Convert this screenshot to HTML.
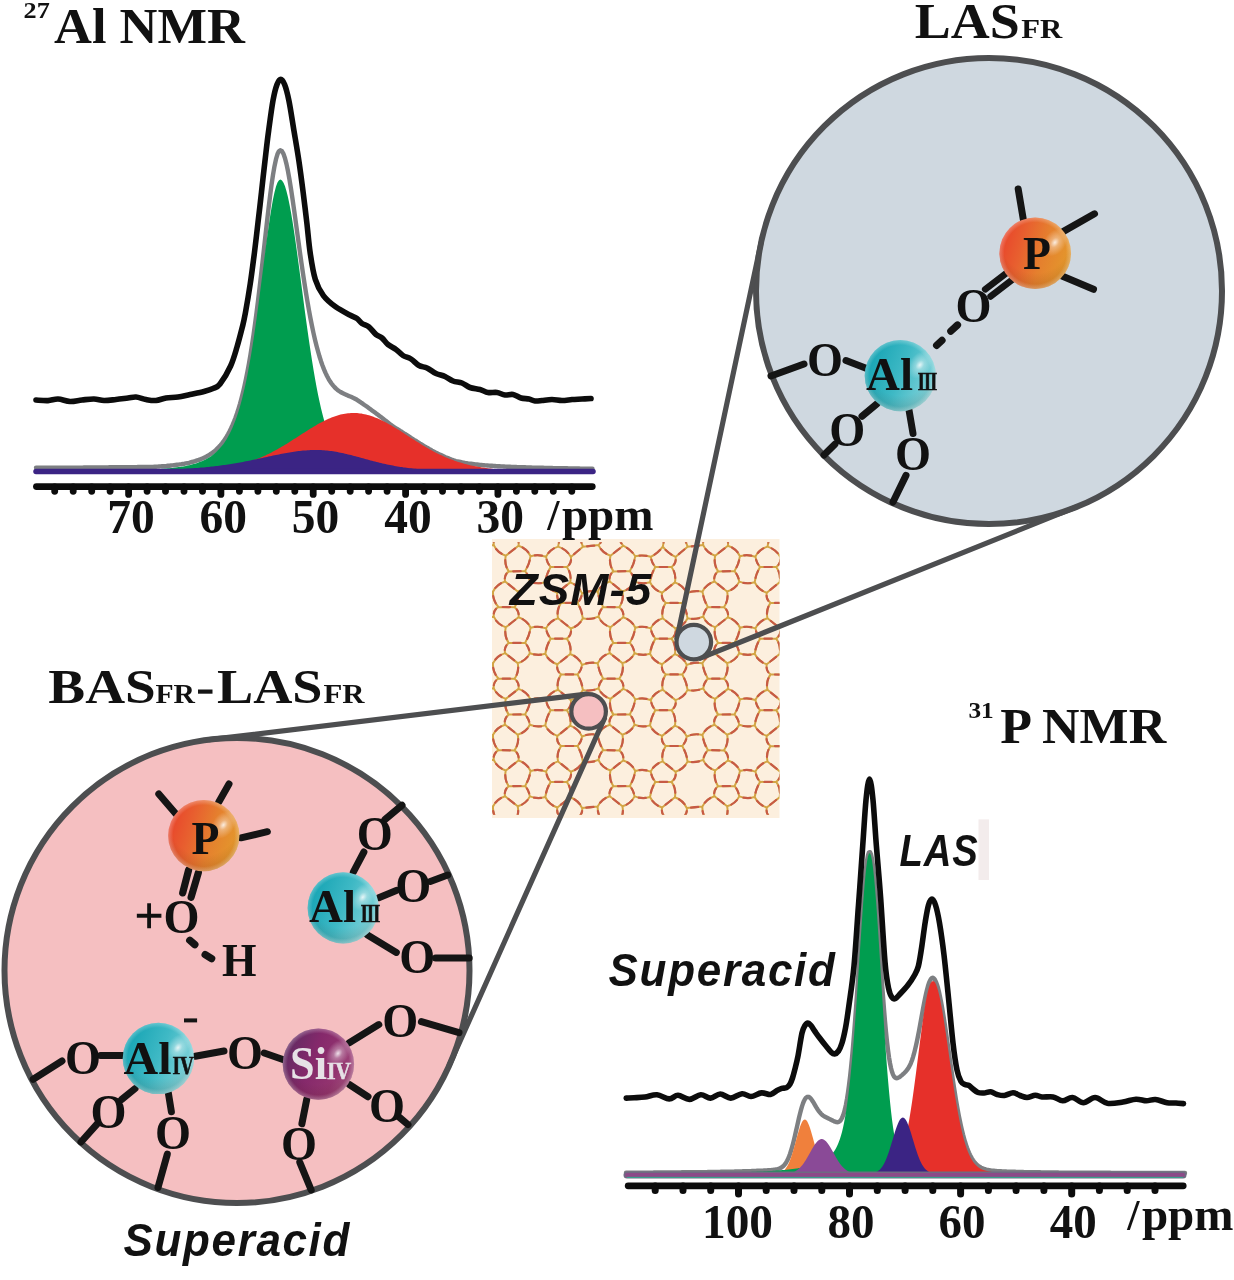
<!DOCTYPE html>
<html lang="en"><head><meta charset="utf-8"><title>ZSM-5 acid sites NMR</title>
<style>html,body{margin:0;padding:0;background:#fff}body{width:1234px;height:1280px;overflow:hidden}svg{display:block}</style>
</head><body>
<svg width="1234" height="1280" viewBox="0 0 1234 1280">
<defs>
<linearGradient id="gP" x1="0" y1="0.35" x2="1" y2="0.65"><stop offset="0" stop-color="#e8442b"/><stop offset="0.3" stop-color="#e8602f"/><stop offset="0.6" stop-color="#e5802e"/><stop offset="1" stop-color="#e39a2c"/></linearGradient>
<linearGradient id="gAl" x1="0" y1="0.3" x2="1" y2="0.7"><stop offset="0" stop-color="#14a3b3"/><stop offset="0.5" stop-color="#3fb9c5"/><stop offset="1" stop-color="#8ad6dc"/></linearGradient>
<linearGradient id="gSi" x1="0" y1="0.3" x2="1" y2="0.7"><stop offset="0" stop-color="#5f2a62"/><stop offset="0.4" stop-color="#85296b"/><stop offset="0.75" stop-color="#93346f"/><stop offset="1" stop-color="#a85585"/></linearGradient>
<radialGradient id="hl" cx="0.5" cy="0.5" r="0.5"><stop offset="0" stop-color="#fff" stop-opacity="0.85"/><stop offset="0.35" stop-color="#fff" stop-opacity="0.35"/><stop offset="1" stop-color="#fff" stop-opacity="0"/></radialGradient>
<radialGradient id="rim" cx="0.5" cy="0.5" r="0.5"><stop offset="0.86" stop-color="#fff" stop-opacity="0"/><stop offset="1" stop-color="#fff" stop-opacity="0.28"/></radialGradient>
<radialGradient id="shade" cx="0.5" cy="0.3" r="0.8"><stop offset="0.6" stop-color="#3a1500" stop-opacity="0"/><stop offset="1" stop-color="#3a1500" stop-opacity="0.22"/></radialGradient>
<clipPath id="zc"><rect x="492" y="542.2" width="287.5" height="272.6"/></clipPath>
</defs>
<rect width="1234" height="1280" fill="#fff"/>
<rect x="492" y="539" width="287.5" height="279" fill="#fcefde"/>
<g clip-path="url(#zc)" fill="none" stroke-linecap="round">
<path d="M550.6 567.1Q558.7 567 566.8 567M550.6 638.7Q558.7 638.6 566.8 638.6M550.6 710.3Q558.7 710.2 566.8 710.2M550.6 781.9Q558.7 781.8 566.8 781.8M655.3 567.1Q663.4 567 671.5 567M655.3 638.7Q663.4 638.6 671.5 638.6M655.3 710.3Q663.4 710.2 671.5 710.2M655.3 781.9Q663.4 781.8 671.5 781.8M760 567.1Q768.1 567 776.2 567M760 638.7Q768.1 638.6 776.2 638.6M760 710.3Q768.1 710.2 776.2 710.2M760 781.9Q768.1 781.8 776.2 781.8M508.7 571.4Q503.7 575.3 505.1 581.5M508.7 643Q503.7 646.9 505.1 653.1M508.7 714.6Q503.7 718.5 505.1 724.7M508.7 786.2Q503.7 790.1 505.1 796.3M613.4 571.4Q608.4 575.3 609.8 581.5M613.4 643Q608.4 646.9 609.8 653.1M613.4 714.6Q608.4 718.5 609.8 724.7M613.4 786.2Q608.4 790.1 609.8 796.3M718.1 571.4Q713.1 575.3 714.5 581.5M718.1 643Q713.1 646.9 714.5 653.1M718.1 714.6Q713.1 718.5 714.5 724.7M718.1 786.2Q713.1 790.1 714.5 796.3M505.1 581.5Q496.9 584 493 591.7M505.1 653.1Q496.9 655.6 493 663.3M505.1 724.7Q496.9 727.2 493 734.9M505.1 796.3Q496.9 798.8 493 806.5M609.8 581.5Q601.6 584 597.7 591.7M609.8 653.1Q601.6 655.6 597.7 663.3M609.8 724.7Q601.6 727.2 597.7 734.9M609.8 796.3Q601.6 798.8 597.7 806.5M714.5 581.5Q706.3 584 702.4 591.7M714.5 653.1Q706.3 655.6 702.4 663.3M714.5 724.7Q706.3 727.2 702.4 734.9M714.5 796.3Q706.3 798.8 702.4 806.5M518.5 545.7Q519.6 539.4 514.5 535.6M518.5 617.3Q519.6 611 514.5 607.2M518.5 688.9Q519.6 682.6 514.5 678.8M518.5 760.5Q519.6 754.2 514.5 750.4M518.5 832.1Q516.5 827.1 514.5 822M623.2 545.7Q619.3 541.4 619.2 535.6M623.2 617.3Q624.3 611 619.2 607.2M623.2 688.9Q624.3 682.6 619.2 678.8M623.2 760.5Q624.3 754.2 619.2 750.4M623.2 832.1Q621.2 827.1 619.2 822M727.9 545.7Q729 539.4 723.9 535.6M727.9 617.3Q729 611 723.9 607.2M727.9 688.9Q729 682.6 723.9 678.8M727.9 760.5Q729 754.2 723.9 750.4M727.9 832.1Q725.9 827.1 723.9 822M529.9 581.6Q537.5 584.5 545.3 582.2M529.9 653.2Q537.5 656.1 545.3 653.8M529.9 724.8Q537.5 727.7 545.3 725.4M529.9 796.4Q537.5 799.3 545.3 797M634.6 581.6Q642.2 584.5 650 582.2M634.6 653.2Q642.2 656.1 650 653.8M634.6 724.8Q642.2 727.7 650 725.4M634.6 796.4Q642.2 799.3 650 797M739.3 581.6Q746.9 584.5 754.7 582.2M739.3 653.2Q746.9 656.1 754.7 653.8M739.3 724.8Q746.9 727.7 754.7 725.4M739.3 796.4Q746.9 799.3 754.7 797M508.7 571.4Q517 571.3 525.2 571.1M508.7 643Q517 642.9 525.2 642.7M508.7 714.6Q517 714.5 525.2 714.3M508.7 786.2Q517 786.1 525.2 785.9M613.4 571.4Q621.7 571.3 629.9 571.1M613.4 643Q621.7 642.9 629.9 642.7M613.4 714.6Q621.7 714.5 629.9 714.3M613.4 786.2Q621.7 786.1 629.9 785.9M718.1 571.4Q726.4 571.3 734.6 571.1M718.1 643Q726.4 642.9 734.6 642.7M718.1 714.6Q726.4 714.5 734.6 714.3M718.1 786.2Q726.4 786.1 734.6 785.9M550.6 567.1Q546.9 562.6 546 556.8M550.6 638.7Q546.9 634.2 546 628.4M550.6 710.3Q546.9 705.8 546 700M550.6 781.9Q546.9 777.4 546 771.6M655.3 567.1Q651.6 562.6 650.7 556.8M655.3 638.7Q651.6 634.2 650.7 628.4M655.3 710.3Q651.6 705.8 650.7 700M655.3 781.9Q651.6 777.4 650.7 771.6M760 567.1Q756.3 562.6 755.4 556.8M760 638.7Q756.3 634.2 755.4 628.4M760 710.3Q756.3 705.8 755.4 700M760 781.9Q756.3 777.4 755.4 771.6M545.3 582.2Q549.1 590 557.4 592.7M545.3 653.8Q549.1 661.6 557.4 664.3M545.3 725.4Q549.1 733.2 557.4 735.9M545.3 797Q549.1 804.8 557.4 807.5M650 582.2Q653.8 590 662.1 592.7M650 653.8Q653.8 661.6 662.1 664.3M650 725.4Q653.8 733.2 662.1 735.9M650 797Q653.8 804.8 662.1 807.5M754.7 582.2Q758.5 590 766.8 592.7M754.7 653.8Q758.5 661.6 766.8 664.3M754.7 725.4Q758.5 733.2 766.8 735.9M754.7 797Q758.5 804.8 766.8 807.5M505.1 581.5Q511.4 586.5 517.7 591.5M505.1 653.1Q511.4 658.1 517.7 663.1M505.1 724.7Q511.4 729.7 517.7 734.7M505.1 796.3Q511.4 801.3 517.7 806.3M609.8 581.5Q616.1 586.5 622.4 591.5M609.8 653.1Q616.1 658.1 622.4 663.1M609.8 724.7Q616.1 729.7 622.4 734.7M609.8 796.3Q616.1 801.3 622.4 806.3M714.5 581.5Q720.8 586.5 727.1 591.5M714.5 653.1Q720.8 658.1 727.1 663.1M714.5 724.7Q720.8 729.7 727.1 734.7M714.5 796.3Q720.8 801.3 727.1 806.3M566.8 567Q571.8 574 570.2 582.4M566.8 638.6Q571.8 645.6 570.2 654M566.8 710.2Q571.8 717.2 570.2 725.6M566.8 781.8Q571.8 788.8 570.2 797.2M671.5 567Q676.5 574 674.9 582.4M671.5 638.6Q676.5 645.6 674.9 654M671.5 710.2Q676.5 717.2 674.9 725.6M671.5 781.8Q676.5 788.8 674.9 797.2M776.2 567Q781.2 574 779.6 582.4M776.2 638.6Q781.2 645.6 779.6 654M776.2 710.2Q781.2 717.2 779.6 725.6M776.2 781.8Q781.2 788.8 779.6 797.2M570.8 556.9Q576.8 551.8 582.9 546.7M570.8 628.5Q579 626 582.9 618.3M570.8 700.1Q579 697.6 582.9 689.9M570.8 771.7Q579 769.2 582.9 761.5M675.5 556.9Q681.5 551.8 687.6 546.7M675.5 628.5Q683.7 626 687.6 618.3M675.5 700.1Q683.7 697.6 687.6 689.9M675.5 771.7Q683.7 769.2 687.6 761.5M780.2 556.9Q786.2 551.8 792.3 546.7M780.2 628.5Q788.4 626 792.3 618.3M780.2 700.1Q788.4 697.6 792.3 689.9M780.2 771.7Q788.4 769.2 792.3 761.5M550.6 567.1Q546.4 574.1 545.3 582.2M550.6 638.7Q546.4 645.7 545.3 653.8M550.6 710.3Q546.4 717.3 545.3 725.4M550.6 781.9Q546.4 788.9 545.3 797M655.3 567.1Q651.1 574.1 650 582.2M655.3 638.7Q651.1 645.7 650 653.8M655.3 710.3Q651.1 717.3 650 725.4M655.3 781.9Q651.1 788.9 650 797M760 567.1Q755.8 574.1 754.7 582.2M760 638.7Q755.8 645.7 754.7 653.8M760 710.3Q755.8 717.3 754.7 725.4M760 781.9Q755.8 788.9 754.7 797M546 556.8Q549.8 549.1 558.1 546.6M546 628.4Q549.8 620.7 558.1 618.2M546 700Q549.8 692.3 558.1 689.8M546 771.6Q549.8 763.9 558.1 761.4M650.7 556.8Q658 553.3 662.8 546.6M650.7 628.4Q654.5 620.7 662.8 618.2M650.7 700Q654.5 692.3 662.8 689.8M650.7 771.6Q654.5 763.9 662.8 761.4M755.4 556.8Q759.2 549.1 767.5 546.6M755.4 628.4Q759.2 620.7 767.5 618.2M755.4 700Q759.2 692.3 767.5 689.8M755.4 771.6Q759.2 763.9 767.5 761.4M546 556.8Q538.4 553.9 530.6 556.2M546 628.4Q538.4 625.5 530.6 627.8M546 700Q538.4 697.1 530.6 699.4M546 771.6Q538.4 768.7 530.6 771M650.7 556.8Q643.1 554.5 635.3 556.2M650.7 628.4Q643.1 625.5 635.3 627.8M650.7 700Q643.1 697.1 635.3 699.4M650.7 771.6Q643.1 768.7 635.3 771M755.4 556.8Q747.8 553.9 740 556.2M755.4 628.4Q747.8 625.5 740 627.8M755.4 700Q747.8 697.1 740 699.4M755.4 771.6Q747.8 768.7 740 771M493.8 545.1Q493 538.8 498.4 535.3M493.8 616.7Q493 610.4 498.4 606.9M493.8 688.3Q493 682 498.4 678.5M493.8 759.9Q493 753.6 498.4 750.1M493.8 831.5Q496.1 826.6 498.4 821.7M598.5 545.1Q602.6 541.1 603.1 535.3M598.5 616.7Q599.3 611.2 603.1 606.9M598.5 688.3Q599.3 682.8 603.1 678.5M598.5 759.9Q599.3 754.4 603.1 750.1M598.5 831.5Q600.8 826.6 603.1 821.7M703.2 545.1Q702.4 538.8 707.8 535.3M703.2 616.7Q704 611.2 707.8 606.9M703.2 688.3Q704 682.8 707.8 678.5M703.2 759.9Q704 754.4 707.8 750.1M703.2 831.5Q705.5 826.6 707.8 821.7M561.1 602.8Q556.1 598.9 557.4 592.7M561.1 674.4Q556.1 670.5 557.4 664.3M561.1 746Q556.1 742.1 557.4 735.9M561.1 817.6Q556.1 813.7 557.4 807.5M665.8 602.8Q660.8 598.9 662.1 592.7M665.8 674.4Q660.8 670.5 662.1 664.3M665.8 746Q660.8 742.1 662.1 735.9M665.8 817.6Q660.8 813.7 662.1 807.5M770.5 602.8Q765.5 598.9 766.8 592.7M770.5 674.4Q765.5 670.5 766.8 664.3M770.5 746Q765.5 742.1 766.8 735.9M770.5 817.6Q765.5 813.7 766.8 807.5M577.6 602.9Q581.3 598.7 582.1 593.3M577.6 674.5Q581.3 670.3 582.1 664.9M577.6 746.1Q581.3 741.9 582.1 736.5M577.6 817.7Q583 814.3 582.1 808.1M682.3 602.9Q686 598.7 686.8 593.3M682.3 674.5Q686 670.3 686.8 664.9M682.3 746.1Q686 741.9 686.8 736.5M682.3 817.7Q687.7 814.3 686.8 808.1M557.4 592.7Q563.8 587.6 570.2 582.4M557.4 664.3Q563.8 659.2 570.2 654M557.4 735.9Q563.8 730.8 570.2 725.6M557.4 807.5Q563.8 802.4 570.2 797.2M662.1 592.7Q668.5 587.6 674.9 582.4M662.1 664.3Q668.5 659.2 674.9 654M662.1 735.9Q668.5 730.8 674.9 725.6M662.1 807.5Q668.5 802.4 674.9 797.2M766.8 592.7Q773.2 587.6 779.6 582.4M766.8 664.3Q773.2 659.2 779.6 654M766.8 735.9Q773.2 730.8 779.6 725.6M766.8 807.5Q773.2 802.4 779.6 797.2M582.9 546.7Q580.2 539.1 577.5 531.5M582.9 618.3Q581.8 610.1 577.6 602.9M582.9 689.9Q581.8 681.7 577.6 674.5M582.9 761.5Q581.8 753.3 577.6 746.1M582.9 833.1Q580.2 825.4 577.6 817.7M687.6 546.7Q684.9 539.1 682.2 531.5M687.6 618.3Q686.5 610.1 682.3 602.9M687.6 689.9Q686.5 681.7 682.3 674.5M687.6 761.5Q686.5 753.3 682.3 746.1M687.6 833.1Q684.9 825.4 682.3 817.7M792.3 546.7Q789.6 539.1 786.9 531.5M792.3 618.3Q792.8 609.6 786.9 603.1M792.3 689.9Q792.8 681.2 786.9 674.7M792.3 761.5Q792.8 752.8 786.9 746.3M792.3 833.1Q789.6 825.5 786.9 817.9M570.2 582.4Q578.4 585.3 582.1 593.3M570.2 654Q578.4 656.9 582.1 664.9M570.2 725.6Q578.4 728.5 582.1 736.5M570.2 797.2Q578.4 800.1 582.1 808.1M674.9 582.4Q683.1 585.3 686.8 593.3M674.9 654Q683.1 656.9 686.8 664.9M674.9 725.6Q683.1 728.5 686.8 736.5M674.9 797.2Q683.1 800.1 686.8 808.1M779.6 582.4Q787.8 585.3 791.5 593.3M779.6 654Q787.8 656.9 791.5 664.9M779.6 725.6Q787.8 728.5 791.5 736.5M779.6 797.2Q787.8 800.1 791.5 808.1M525.2 571.1Q529 575.7 529.9 581.6M525.2 642.7Q529 647.3 529.9 653.2M525.2 714.3Q529 718.9 529.9 724.8M525.2 785.9Q529 790.5 529.9 796.4M629.9 571.1Q633.7 575.7 634.6 581.6M629.9 642.7Q633.7 647.3 634.6 653.2M629.9 714.3Q633.7 718.9 634.6 724.8M629.9 785.9Q633.7 790.5 634.6 796.4M734.6 571.1Q738.4 575.7 739.3 581.6M734.6 642.7Q738.4 647.3 739.3 653.2M734.6 714.3Q738.4 718.9 739.3 724.8M734.6 785.9Q738.4 790.5 739.3 796.4M493.8 545.1Q497.5 553 505.8 555.7M493.8 616.7Q497.5 624.6 505.8 627.3M493.8 688.3Q497.5 696.2 505.8 698.9M493.8 759.9Q497.5 767.8 505.8 770.5M598.5 545.1Q602.2 553 610.5 555.7M598.5 616.7Q602.2 624.6 610.5 627.3M598.5 688.3Q602.2 696.2 610.5 698.9M598.5 759.9Q602.2 767.8 610.5 770.5M703.2 545.1Q706.9 553 715.2 555.7M703.2 616.7Q706.9 624.6 715.2 627.3M703.2 688.3Q706.9 696.2 715.2 698.9M703.2 759.9Q706.9 767.8 715.2 770.5M505.8 555.7Q512.1 550.7 518.5 545.7M505.8 627.3Q512.1 622.3 518.5 617.3M505.8 698.9Q512.1 693.9 518.5 688.9M505.8 770.5Q512.1 765.5 518.5 760.5M610.5 555.7Q616.8 550.7 623.2 545.7M610.5 627.3Q616.8 622.3 623.2 617.3M610.5 698.9Q616.8 693.9 623.2 688.9M610.5 770.5Q616.8 765.5 623.2 760.5M715.2 555.7Q721.5 550.7 727.9 545.7M715.2 627.3Q721.5 622.3 727.9 617.3M715.2 698.9Q721.5 693.9 727.9 688.9M715.2 770.5Q721.5 765.5 727.9 760.5M570.8 556.9Q572 563.2 566.8 567M570.8 628.5Q572 634.8 566.8 638.6M570.8 700.1Q572 706.4 566.8 710.2M570.8 771.7Q572 778 566.8 781.8M675.5 556.9Q676.7 563.2 671.5 567M675.5 628.5Q676.7 634.8 671.5 638.6M675.5 700.1Q676.7 706.4 671.5 710.2M675.5 771.7Q676.7 778 671.5 781.8M780.2 556.9Q781.4 563.2 776.2 567M780.2 628.5Q781.4 634.8 776.2 638.6M780.2 700.1Q781.4 706.4 776.2 710.2M780.2 771.7Q781.4 778 776.2 781.8M577.6 602.9Q569.4 602.8 561.1 602.8M577.6 674.5Q569.4 674.4 561.1 674.4M577.6 746.1Q569.4 746 561.1 746M577.6 817.7Q569.3 821 561.1 817.6M682.3 602.9Q674.1 602.8 665.8 602.8M682.3 674.5Q674.1 674.4 665.8 674.4M682.3 746.1Q674.1 746 665.8 746M682.3 817.7Q674 821 665.8 817.6M786.9 603.1Q778.7 602.9 770.5 602.8M786.9 674.7Q778.7 674.5 770.5 674.4M786.9 746.3Q778.7 746.1 770.5 746M786.9 817.9Q778.6 821.1 770.5 817.6M498.4 535.3Q506.5 532.1 514.5 535.6M498.4 606.9Q506.4 607.1 514.5 607.2M498.4 678.5Q506.4 678.7 514.5 678.8M498.4 750.1Q506.4 750.3 514.5 750.4M498.4 821.7Q506.4 825.3 514.5 822M603.1 535.3Q611.1 537.5 619.2 535.6M603.1 606.9Q611.1 607.1 619.2 607.2M603.1 678.5Q611.1 678.7 619.2 678.8M603.1 750.1Q611.1 750.3 619.2 750.4M603.1 821.7Q611.1 825.3 619.2 822M707.8 535.3Q715.9 532.1 723.9 535.6M707.8 606.9Q715.8 607.1 723.9 607.2M707.8 678.5Q715.8 678.7 723.9 678.8M707.8 750.1Q715.8 750.3 723.9 750.4M707.8 821.7Q715.8 825.3 723.9 822M517.7 591.5Q526 589.2 529.9 581.6M517.7 663.1Q526 660.8 529.9 653.2M517.7 734.7Q526 732.4 529.9 724.8M517.7 806.3Q526 804 529.9 796.4M622.4 591.5Q630.7 589.2 634.6 581.6M622.4 663.1Q630.7 660.8 634.6 653.2M622.4 734.7Q630.7 732.4 634.6 724.8M622.4 806.3Q630.7 804 634.6 796.4M727.1 591.5Q735.4 589.2 739.3 581.6M727.1 663.1Q735.4 660.8 739.3 653.2M727.1 734.7Q735.4 732.4 739.3 724.8M727.1 806.3Q735.4 804 739.3 796.4M518.5 545.7Q526.8 548.4 530.6 556.2M518.5 617.3Q526.8 620 530.6 627.8M518.5 688.9Q526.8 691.6 530.6 699.4M518.5 760.5Q526.8 763.2 530.6 771M623.2 545.7Q630.6 549.4 635.3 556.2M623.2 617.3Q631.5 620 635.3 627.8M623.2 688.9Q631.5 691.6 635.3 699.4M623.2 760.5Q631.5 763.2 635.3 771M727.9 545.7Q736.2 548.4 740 556.2M727.9 617.3Q736.2 620 740 627.8M727.9 688.9Q736.2 691.6 740 699.4M727.9 760.5Q736.2 763.2 740 771M525.2 571.1Q529.4 564.2 530.6 556.2M525.2 642.7Q529.4 635.8 530.6 627.8M525.2 714.3Q529.4 707.4 530.6 699.4M525.2 785.9Q529.4 779 530.6 771M629.9 571.1Q634.1 564.2 635.3 556.2M629.9 642.7Q634.1 635.8 635.3 627.8M629.9 714.3Q634.1 707.4 635.3 699.4M629.9 785.9Q634.1 779 635.3 771M734.6 571.1Q738.8 564.2 740 556.2M734.6 642.7Q738.8 635.8 740 627.8M734.6 714.3Q738.8 707.4 740 699.4M734.6 785.9Q738.8 779 740 771M786.9 603.1Q792.3 599.6 791.5 593.3M786.9 674.7Q792.3 671.2 791.5 664.9M786.9 746.3Q792.3 742.8 791.5 736.5M786.9 817.9Q792.3 814.4 791.5 808.1M478.2 546.7Q486 545.9 493.8 545.1M478.2 618.3Q486 617.5 493.8 616.7M478.2 689.9Q486 689.1 493.8 688.3M478.2 761.5Q486 760.7 493.8 759.9M582.9 546.7Q590.7 545.9 598.5 545.1M582.9 618.3Q590.9 620.1 598.5 616.7M582.9 689.9Q590.9 691.7 598.5 688.3M582.9 761.5Q590.9 763.3 598.5 759.9M687.6 546.7Q695.4 545.9 703.2 545.1M687.6 618.3Q695.6 620.1 703.2 616.7M687.6 689.9Q695.6 691.7 703.2 688.3M687.6 761.5Q695.6 763.3 703.2 759.9M561.1 531.2Q559.6 538.9 558.1 546.6M561.1 602.8Q556.2 609.9 558.1 618.2M561.1 674.4Q556.2 681.5 558.1 689.8M561.1 746Q556.2 753.1 558.1 761.4M561.1 817.6Q559.6 825.5 558.2 833.3M665.8 531.2Q664.3 538.9 662.8 546.6M665.8 602.8Q660.9 609.9 662.8 618.2M665.8 674.4Q660.9 681.5 662.8 689.8M665.8 746Q660.9 753.1 662.8 761.4M665.8 817.6Q664.3 825.5 662.9 833.3M770.5 531.2Q769 538.9 767.5 546.6M770.5 602.8Q765.6 609.9 767.5 618.2M770.5 674.4Q765.6 681.5 767.5 689.8M770.5 746Q765.6 753.1 767.5 761.4M770.5 817.6Q769 825.5 767.6 833.3M514.5 535.6Q516.1 527.7 517.7 519.9M514.5 607.2Q519.5 600 517.7 591.5M514.5 678.8Q519.5 671.6 517.7 663.1M514.5 750.4Q519.5 743.2 517.7 734.7M514.5 822Q519.5 814.8 517.7 806.3M619.2 535.6Q620.8 527.7 622.4 519.9M619.2 607.2Q624.2 600 622.4 591.5M619.2 678.8Q624.2 671.6 622.4 663.1M619.2 750.4Q624.2 743.2 622.4 734.7M619.2 822Q624.2 814.8 622.4 806.3M723.9 535.6Q725.5 527.7 727.1 519.9M723.9 607.2Q728.9 600 727.1 591.5M723.9 678.8Q728.9 671.6 727.1 663.1M723.9 750.4Q728.9 743.2 727.1 734.7M723.9 822Q728.9 814.8 727.1 806.3M477.5 592.6Q485.3 592.1 493 591.7M477.5 664.2Q485.3 663.7 493 663.3M477.5 735.8Q485.3 735.3 493 734.9M477.5 807.4Q485.3 806.9 493 806.5M582.1 593.3Q589.7 589.9 597.7 591.7M582.1 664.9Q589.7 661.5 597.7 663.3M582.1 736.5Q589.7 733.1 597.7 734.9M582.1 808.1Q589.9 807.3 597.7 806.5M686.8 593.3Q694.4 589.9 702.4 591.7M686.8 664.9Q694.4 661.5 702.4 663.3M686.8 736.5Q694.4 733.1 702.4 734.9M686.8 808.1Q694.6 807.3 702.4 806.5M570.8 556.9Q566.6 549.1 558.1 546.6M570.8 628.5Q564.4 623.4 558.1 618.2M570.8 700.1Q564.4 695 558.1 689.8M570.8 771.7Q564.4 766.6 558.1 761.4M675.5 556.9Q667.9 553.3 662.8 546.6M675.5 628.5Q669.1 623.4 662.8 618.2M675.5 700.1Q669.1 695 662.8 689.8M675.5 771.7Q669.1 766.6 662.8 761.4M780.2 556.9Q776 549.1 767.5 546.6M780.2 628.5Q773.8 623.4 767.5 618.2M780.2 700.1Q773.8 695 767.5 689.8M780.2 771.7Q773.8 766.6 767.5 761.4M492.9 520.4Q495.7 527.9 498.4 535.3M493 591.7Q492.5 600.4 498.4 606.9M493 663.3Q492.5 672 498.4 678.5M493 734.9Q492.5 743.6 498.4 750.1M493 806.5Q492.5 815.2 498.4 821.7M597.6 520.4Q600.4 527.9 603.1 535.3M597.7 591.7Q598.9 599.8 603.1 606.9M597.7 663.3Q598.9 671.4 603.1 678.5M597.7 734.9Q598.9 743 603.1 750.1M597.7 806.5Q597.2 815.2 603.1 821.7M702.3 520.4Q705.1 527.9 707.8 535.3M702.4 591.7Q703.6 599.8 707.8 606.9M702.4 663.3Q703.6 671.4 707.8 678.5M702.4 734.9Q703.6 743 707.8 750.1M702.4 806.5Q701.9 815.2 707.8 821.7M505.8 555.7Q503.9 564.2 508.7 571.4M505.8 627.3Q503.9 635.8 508.7 643M505.8 698.9Q503.9 707.4 508.7 714.6M505.8 770.5Q503.9 779 508.7 786.2M610.5 555.7Q608.6 564.2 613.4 571.4M610.5 627.3Q608.6 635.8 613.4 643M610.5 698.9Q608.6 707.4 613.4 714.6M610.5 770.5Q608.6 779 613.4 786.2M715.2 555.7Q713.3 564.2 718.1 571.4M715.2 627.3Q713.3 635.8 718.1 643M715.2 698.9Q713.3 707.4 718.1 714.6M715.2 770.5Q713.3 779 718.1 786.2" stroke="#d3a544" stroke-width="2.0"/>
<path d="M555 567Q558.7 567 562.5 567M555 638.6Q558.7 638.6 562.5 638.6M555 710.2Q558.7 710.2 562.5 710.2M555 781.8Q558.7 781.8 562.5 781.8M659.7 567Q663.4 567 667.2 567M659.7 638.6Q663.4 638.6 667.2 638.6M659.7 710.2Q663.4 710.2 667.2 710.2M659.7 781.8Q663.4 781.8 667.2 781.8M764.4 567Q768.1 567 771.9 567M764.4 638.6Q768.1 638.6 771.9 638.6M764.4 710.2Q768.1 710.2 771.9 710.2M764.4 781.8Q768.1 781.8 771.9 781.8M506.5 573.7Q505 575.8 504.8 578.3M506.5 645.3Q505 647.4 504.8 649.9M506.5 716.9Q505 719 504.8 721.5M506.5 788.5Q505 790.6 504.8 793.1M611.2 573.7Q609.7 575.8 609.5 578.3M611.2 645.3Q609.7 647.4 609.5 649.9M611.2 716.9Q609.7 719 609.5 721.5M611.2 788.5Q609.7 790.6 609.5 793.1M715.9 573.7Q714.4 575.8 714.2 578.3M715.9 645.3Q714.4 647.4 714.2 649.9M715.9 716.9Q714.4 719 714.2 721.5M715.9 788.5Q714.4 790.6 714.2 793.1M501 583.2Q497.7 585 495.4 587.9M501 654.8Q497.7 656.6 495.4 659.5M501 726.4Q497.7 728.2 495.4 731.1M501 798Q497.7 799.8 495.4 802.7M605.7 583.2Q602.4 585 600.1 587.9M605.7 654.8Q602.4 656.6 600.1 659.5M605.7 726.4Q602.4 728.2 600.1 731.1M605.7 798Q602.4 799.8 600.1 802.7M710.4 583.2Q707.1 585 704.8 587.9M710.4 654.8Q707.1 656.6 704.8 659.5M710.4 726.4Q707.1 728.2 704.8 731.1M710.4 798Q707.1 799.8 704.8 802.7M518.6 542.5Q518.4 539.9 516.8 537.9M518.6 614.1Q518.4 611.5 516.8 609.5M518.6 685.7Q518.4 683.1 516.8 681.1M518.6 757.3Q518.4 754.7 516.8 752.7M517.4 829.4Q516.5 827.1 515.6 824.7M621.4 543.3Q620.1 541.1 619.5 538.6M623.3 614.1Q623.1 611.5 621.5 609.5M623.3 685.7Q623.1 683.1 621.5 681.1M623.3 757.3Q623.1 754.7 621.5 752.7M622.1 829.4Q621.2 827.1 620.3 824.7M728 542.5Q727.8 539.9 726.2 537.9M728 614.1Q727.8 611.5 726.2 609.5M728 685.7Q727.8 683.1 726.2 681.1M728 757.3Q727.8 754.7 726.2 752.7M726.8 829.4Q725.9 827.1 725 824.7M534 582.8Q537.5 583.5 541.1 583.1M534 654.4Q537.5 655.1 541.1 654.7M534 726Q537.5 726.7 541.1 726.3M534 797.6Q537.5 798.3 541.1 797.9M638.7 582.8Q642.2 583.5 645.8 583.1M638.7 654.4Q642.2 655.1 645.8 654.7M638.7 726Q642.2 726.7 645.8 726.3M638.7 797.6Q642.2 798.3 645.8 797.9M743.4 582.8Q746.9 583.5 750.5 583.1M743.4 654.4Q746.9 655.1 750.5 654.7M743.4 726Q746.9 726.7 750.5 726.3M743.4 797.6Q746.9 798.3 750.5 797.9M513.2 571.3Q517 571.3 520.7 571.2M513.2 642.9Q517 642.9 520.7 642.8M513.2 714.5Q517 714.5 520.7 714.4M513.2 786.1Q517 786.1 520.7 786M617.9 571.3Q621.7 571.3 625.4 571.2M617.9 642.9Q621.7 642.9 625.4 642.8M617.9 714.5Q621.7 714.5 625.4 714.4M617.9 786.1Q621.7 786.1 625.4 786M722.6 571.3Q726.4 571.3 730.1 571.2M722.6 642.9Q726.4 642.9 730.1 642.8M722.6 714.5Q726.4 714.5 730.1 714.4M722.6 786.1Q726.4 786.1 730.1 786M548.8 564.5Q547.4 562.3 546.7 559.8M548.8 636.1Q547.4 633.9 546.7 631.4M548.8 707.7Q547.4 705.5 546.7 703M548.8 779.3Q547.4 777.1 546.7 774.6M653.5 564.5Q652.1 562.3 651.4 559.8M653.5 636.1Q652.1 633.9 651.4 631.4M653.5 707.7Q652.1 705.5 651.4 703M653.5 779.3Q652.1 777.1 651.4 774.6M758.2 564.5Q756.8 562.3 756.1 559.8M758.2 636.1Q756.8 633.9 756.1 631.4M758.2 707.7Q756.8 705.5 756.1 703M758.2 779.3Q756.8 777.1 756.1 774.6M547.7 586.1Q550 589 553.3 590.9M547.7 657.7Q550 660.6 553.3 662.5M547.7 729.3Q550 732.2 553.3 734.1M547.7 800.9Q550 803.8 553.3 805.7M652.4 586.1Q654.7 589 658 590.9M652.4 657.7Q654.7 660.6 658 662.5M652.4 729.3Q654.7 732.2 658 734.1M652.4 800.9Q654.7 803.8 658 805.7M757.1 586.1Q759.4 589 762.7 590.9M757.1 657.7Q759.4 660.6 762.7 662.5M757.1 729.3Q759.4 732.2 762.7 734.1M757.1 800.9Q759.4 803.8 762.7 805.7M508.5 584.2Q511.4 586.5 514.3 588.8M508.5 655.8Q511.4 658.1 514.3 660.4M508.5 727.4Q511.4 729.7 514.3 732M508.5 799Q511.4 801.3 514.3 803.6M613.2 584.2Q616.1 586.5 619 588.8M613.2 655.8Q616.1 658.1 619 660.4M613.2 727.4Q616.1 729.7 619 732M613.2 799Q616.1 801.3 619 803.6M717.9 584.2Q720.8 586.5 723.7 588.8M717.9 655.8Q720.8 658.1 723.7 660.4M717.9 727.4Q720.8 729.7 723.7 732M717.9 799Q720.8 801.3 723.7 803.6M569.1 570.9Q570.5 574.3 570.6 578M569.1 642.5Q570.5 645.9 570.6 649.6M569.1 714.1Q570.5 717.5 570.6 721.2M569.1 785.7Q570.5 789.1 570.6 792.8M673.8 570.9Q675.2 574.3 675.3 578M673.8 642.5Q675.2 645.9 675.3 649.6M673.8 714.1Q675.2 717.5 675.3 721.2M673.8 785.7Q675.2 789.1 675.3 792.8M778.5 570.9Q779.9 574.3 780 578M778.5 642.5Q779.9 645.9 780 649.6M778.5 714.1Q779.9 717.5 780 721.2M778.5 785.7Q779.9 789.1 780 792.8M574.1 554.1Q576.8 551.8 579.6 549.5M574.9 626.8Q578.2 625 580.5 622.1M574.9 698.4Q578.2 696.6 580.5 693.7M574.9 770Q578.2 768.2 580.5 765.3M678.8 554.1Q681.5 551.8 684.3 549.5M679.6 626.8Q682.9 625 685.2 622.1M679.6 698.4Q682.9 696.6 685.2 693.7M679.6 770Q682.9 768.2 685.2 765.3M783.5 554.1Q786.2 551.8 789 549.5M784.3 626.8Q787.6 625 789.9 622.1M784.3 698.4Q787.6 696.6 789.9 693.7M784.3 770Q787.6 768.2 789.9 765.3M548.6 570.9Q547 574.3 546.1 577.9M548.6 642.5Q547 645.9 546.1 649.5M548.6 714.1Q547 717.5 546.1 721.1M548.6 785.7Q547 789.1 546.1 792.7M653.3 570.9Q651.7 574.3 650.8 577.9M653.3 642.5Q651.7 645.9 650.8 649.5M653.3 714.1Q651.7 717.5 650.8 721.1M653.3 785.7Q651.7 789.1 650.8 792.7M758 570.9Q756.4 574.3 755.5 577.9M758 642.5Q756.4 645.9 755.5 649.5M758 714.1Q756.4 717.5 755.5 721.1M758 785.7Q756.4 789.1 755.5 792.7M548.4 553Q550.7 550.2 553.9 548.4M548.4 624.6Q550.7 621.8 553.9 620M548.4 696.2Q550.7 693.4 553.9 691.6M548.4 767.8Q550.7 765 553.9 763.2M654.5 554.7Q657.5 552.7 660 550M653.1 624.6Q655.4 621.8 658.6 620M653.1 696.2Q655.4 693.4 658.6 691.6M653.1 767.8Q655.4 765 658.6 763.2M757.8 553Q760.1 550.2 763.3 548.4M757.8 624.6Q760.1 621.8 763.3 620M757.8 696.2Q760.1 693.4 763.3 691.6M757.8 767.8Q760.1 765 763.3 763.2M541.9 555.6Q538.4 554.9 534.8 555.3M541.9 627.2Q538.4 626.5 534.8 626.9M541.9 698.8Q538.4 698.1 534.8 698.5M541.9 770.4Q538.4 769.7 534.8 770.1M646.6 555.9Q643.1 555.3 639.5 555.6M646.6 627.2Q643.1 626.5 639.5 626.9M646.6 698.8Q643.1 698.1 639.5 698.5M646.6 770.4Q643.1 769.7 639.5 770.1M751.3 555.6Q747.8 554.9 744.2 555.3M751.3 627.2Q747.8 626.5 744.2 626.9M751.3 698.8Q747.8 698.1 744.2 698.5M751.3 770.4Q747.8 769.7 744.2 770.1M493.8 541.9Q494.2 539.4 495.9 537.4M493.8 613.5Q494.2 611 495.9 609M493.8 685.1Q494.2 682.6 495.9 680.6M493.8 756.7Q494.2 754.2 495.9 752.2M495 828.9Q496.1 826.6 497.1 824.4M600.4 542.8Q601.9 540.8 602.5 538.3M599.1 613.8Q599.9 611.4 601.3 609.3M599.1 685.4Q599.9 683 601.3 680.9M599.1 757Q599.9 754.6 601.3 752.5M599.7 828.9Q600.8 826.6 601.8 824.4M703.2 541.9Q703.6 539.4 705.3 537.4M703.8 613.8Q704.6 611.4 706 609.3M703.8 685.4Q704.6 683 706 680.9M703.8 757Q704.6 754.6 706 752.5M704.4 828.9Q705.5 826.6 706.5 824.4M558.8 600.5Q557.3 598.4 557.2 595.9M558.8 672.1Q557.3 670 557.2 667.5M558.8 743.7Q557.3 741.6 557.2 739.1M558.8 815.3Q557.3 813.2 557.2 810.7M663.5 600.5Q662 598.4 661.9 595.9M663.5 672.1Q662 670 661.9 667.5M663.5 743.7Q662 741.6 661.9 739.1M663.5 815.3Q662 813.2 661.9 810.7M768.2 600.5Q766.7 598.4 766.6 595.9M768.2 672.1Q766.7 670 766.6 667.5M768.2 743.7Q766.7 741.6 766.6 739.1M768.2 815.3Q766.7 813.2 766.6 810.7M579.4 600.5Q580.8 598.5 581.5 596.1M579.4 672.1Q580.8 670.1 581.5 667.7M579.4 743.7Q580.8 741.7 581.5 739.3M580.1 815.6Q581.7 813.7 582.1 811.2M684.1 600.5Q685.5 598.5 686.2 596.1M684.1 672.1Q685.5 670.1 686.2 667.7M684.1 743.7Q685.5 741.7 686.2 739.3M684.8 815.6Q686.4 813.7 686.8 811.2M560.9 589.9Q563.8 587.6 566.7 585.2M560.9 661.5Q563.8 659.2 566.7 656.8M560.9 733.1Q563.8 730.8 566.7 728.4M560.9 804.7Q563.8 802.4 566.7 800M665.6 589.9Q668.5 587.6 671.4 585.2M665.6 661.5Q668.5 659.2 671.4 656.8M665.6 733.1Q668.5 730.8 671.4 728.4M665.6 804.7Q668.5 802.4 671.4 800M770.3 589.9Q773.2 587.6 776.1 585.2M770.3 661.5Q773.2 659.2 776.1 656.8M770.3 733.1Q773.2 730.8 776.1 728.4M770.3 804.7Q773.2 802.4 776.1 800M581.4 542.6Q580.2 539.1 579 535.6M582.1 613.9Q581.2 610.3 579.6 606.8M582.1 685.5Q581.2 681.9 579.6 678.4M582.1 757.1Q581.2 753.5 579.6 750M581.5 828.9Q580.2 825.4 579 821.8M686.1 542.6Q684.9 539.1 683.7 535.6M686.8 613.9Q685.9 610.3 684.3 606.8M686.8 685.5Q685.9 681.9 684.3 678.4M686.8 757.1Q685.9 753.5 684.3 750M686.2 828.9Q684.9 825.4 683.7 821.8M790.8 542.6Q789.6 539.1 788.4 535.6M792.1 613.8Q791.5 610 789.6 606.7M792.1 685.4Q791.5 681.6 789.6 678.3M792.1 757Q791.5 753.2 789.6 749.9M790.8 829Q789.6 825.5 788.4 822M574.3 584.4Q577.5 586.3 579.8 589.3M574.3 656Q577.5 657.9 579.8 660.9M574.3 727.6Q577.5 729.5 579.8 732.5M574.3 799.2Q577.5 801.1 579.8 804.1M679 584.4Q682.2 586.3 684.5 589.3M679 656Q682.2 657.9 684.5 660.9M679 727.6Q682.2 729.5 684.5 732.5M679 799.2Q682.2 801.1 684.5 804.1M783.7 584.4Q786.9 586.3 789.2 589.3M783.7 656Q786.9 657.9 789.2 660.9M783.7 727.6Q786.9 729.5 789.2 732.5M783.7 799.2Q786.9 801.1 789.2 804.1M527 573.7Q528.4 576 529.2 578.5M527 645.3Q528.4 647.6 529.2 650.1M527 716.9Q528.4 719.2 529.2 721.7M527 788.5Q528.4 790.8 529.2 793.3M631.7 573.7Q633.1 576 633.9 578.5M631.7 645.3Q633.1 647.6 633.9 650.1M631.7 716.9Q633.1 719.2 633.9 721.7M631.7 788.5Q633.1 790.8 633.9 793.3M736.4 573.7Q737.8 576 738.6 578.5M736.4 645.3Q737.8 647.6 738.6 650.1M736.4 716.9Q737.8 719.2 738.6 721.7M736.4 788.5Q737.8 790.8 738.6 793.3M496.1 549Q498.4 552 501.7 553.8M496.1 620.6Q498.4 623.6 501.7 625.4M496.1 692.2Q498.4 695.2 501.7 697M496.1 763.8Q498.4 766.8 501.7 768.6M600.8 549Q603.1 552 606.4 553.8M600.8 620.6Q603.1 623.6 606.4 625.4M600.8 692.2Q603.1 695.2 606.4 697M600.8 763.8Q603.1 766.8 606.4 768.6M705.5 549Q707.8 552 711.1 553.8M705.5 620.6Q707.8 623.6 711.1 625.4M705.5 692.2Q707.8 695.2 711.1 697M705.5 763.8Q707.8 766.8 711.1 768.6M509.2 553Q512.1 550.7 515.1 548.4M509.2 624.6Q512.1 622.3 515.1 620M509.2 696.2Q512.1 693.9 515.1 691.6M509.2 767.8Q512.1 765.5 515.1 763.2M613.9 553Q616.8 550.7 619.8 548.4M613.9 624.6Q616.8 622.3 619.8 620M613.9 696.2Q616.8 693.9 619.8 691.6M613.9 767.8Q616.8 765.5 619.8 763.2M718.6 553Q721.5 550.7 724.5 548.4M718.6 624.6Q721.5 622.3 724.5 620M718.6 696.2Q721.5 693.9 724.5 691.6M718.6 767.8Q721.5 765.5 724.5 763.2M571 560.1Q570.8 562.7 569.2 564.7M571 631.7Q570.8 634.3 569.2 636.3M571 703.3Q570.8 705.9 569.2 707.9M571 774.9Q570.8 777.5 569.2 779.5M675.7 560.1Q675.5 562.7 673.9 564.7M675.7 631.7Q675.5 634.3 673.9 636.3M675.7 703.3Q675.5 705.9 673.9 707.9M675.7 774.9Q675.5 777.5 673.9 779.5M780.4 560.1Q780.2 562.7 778.6 564.7M780.4 631.7Q780.2 634.3 778.6 636.3M780.4 703.3Q780.2 705.9 778.6 707.9M780.4 774.9Q780.2 777.5 778.6 779.5M573.2 602.8Q569.4 602.8 565.6 602.8M573.2 674.4Q569.4 674.4 565.6 674.4M573.2 746Q569.4 746 565.6 746M573.2 819Q569.4 819.7 565.5 818.9M677.9 602.8Q674.1 602.8 670.3 602.8M677.9 674.4Q674.1 674.4 670.3 674.4M677.9 746Q674.1 746 670.3 746M677.9 819Q674.1 819.7 670.2 818.9M782.5 603Q778.7 602.9 774.9 602.9M782.5 674.6Q778.7 674.5 774.9 674.5M782.5 746.2Q778.7 746.1 774.9 746.1M782.5 819.1Q778.7 819.8 774.9 819M502.8 534.1Q506.5 533.4 510.2 534.2M502.7 607Q506.4 607.1 510.1 607.1M502.7 678.6Q506.4 678.7 510.1 678.7M502.7 750.2Q506.4 750.3 510.1 750.3M502.7 823.2Q506.4 823.9 510.1 823.3M607.4 536.2Q611.1 536.7 614.8 536.3M607.4 607Q611.1 607.1 614.8 607.1M607.4 678.6Q611.1 678.7 614.8 678.7M607.4 750.2Q611.1 750.3 614.8 750.3M607.4 823.2Q611.1 823.9 614.8 823.3M712.2 534.1Q715.9 533.4 719.6 534.2M712.1 607Q715.8 607.1 719.5 607.1M712.1 678.6Q715.8 678.7 719.5 678.7M712.1 750.2Q715.8 750.3 719.5 750.3M712.1 823.2Q715.8 823.9 719.5 823.3M521.9 589.8Q525.1 588.1 527.5 585.3M521.9 661.4Q525.1 659.7 527.5 656.9M521.9 733Q525.1 731.3 527.5 728.5M521.9 804.6Q525.1 802.9 527.5 800.1M626.6 589.8Q629.8 588.1 632.2 585.3M626.6 661.4Q629.8 659.7 632.2 656.9M626.6 733Q629.8 731.3 632.2 728.5M626.6 804.6Q629.8 802.9 632.2 800.1M731.3 589.8Q734.5 588.1 736.9 585.3M731.3 661.4Q734.5 659.7 736.9 656.9M731.3 733Q734.5 731.3 736.9 728.5M731.3 804.6Q734.5 802.9 736.9 800.1M522.6 547.5Q525.9 549.4 528.2 552.3M522.6 619.1Q525.9 621 528.2 623.9M522.6 690.7Q525.9 692.6 528.2 695.5M522.6 762.3Q525.9 764.2 528.2 767.1M627 547.9Q630 550 632.6 552.7M627.3 619.1Q630.6 621 632.9 623.9M627.3 690.7Q630.6 692.6 632.9 695.5M627.3 762.3Q630.6 764.2 632.9 767.1M732 547.5Q735.3 549.4 737.6 552.3M732 619.1Q735.3 621 737.6 623.9M732 690.7Q735.3 692.6 737.6 695.5M732 762.3Q735.3 764.2 737.6 767.1M527.2 567.3Q528.8 564 529.7 560.4M527.2 638.9Q528.8 635.6 529.7 632M527.2 710.5Q528.8 707.2 529.7 703.6M527.2 782.1Q528.8 778.8 529.7 775.2M631.9 567.3Q633.5 564 634.4 560.4M631.9 638.9Q633.5 635.6 634.4 632M631.9 710.5Q633.5 707.2 634.4 703.6M631.9 782.1Q633.5 778.8 634.4 775.2M736.6 567.3Q738.2 564 739.1 560.4M736.6 638.9Q738.2 635.6 739.1 632M736.6 710.5Q738.2 707.2 739.1 703.6M736.6 782.1Q738.2 778.8 739.1 775.2M789.4 601Q791.1 599 791.5 596.5M789.4 672.6Q791.1 670.6 791.5 668.1M789.4 744.2Q791.1 742.2 791.5 739.7M789.4 815.8Q791.1 813.8 791.5 811.3M482.4 546.3Q486 545.9 489.6 545.6M482.4 617.9Q486 617.5 489.6 617.2M482.4 689.5Q486 689.1 489.6 688.8M482.4 761.1Q486 760.7 489.6 760.4M587.1 546.3Q590.7 545.9 594.3 545.6M587.2 618.9Q590.8 619.1 594.4 618.2M587.2 690.5Q590.8 690.7 594.4 689.8M587.2 762.1Q590.8 762.3 594.4 761.4M691.8 546.3Q695.4 545.9 699 545.6M691.9 618.9Q695.5 619.1 699.1 618.2M691.9 690.5Q695.5 690.7 699.1 689.8M691.9 762.1Q695.5 762.3 699.1 761.4M560.3 535.4Q559.6 538.9 558.9 542.5M559 606.7Q557.5 610.1 557.6 613.8M559 678.3Q557.5 681.7 557.6 685.4M559 749.9Q557.5 753.3 557.6 757M560.3 821.8Q559.6 825.5 558.9 829.1M665 535.4Q664.3 538.9 663.6 542.5M663.7 606.7Q662.2 610.1 662.3 613.8M663.7 678.3Q662.2 681.7 662.3 685.4M663.7 749.9Q662.2 753.3 662.3 757M665 821.8Q664.3 825.5 663.6 829.1M769.7 535.4Q769 538.9 768.3 542.5M768.4 606.7Q766.9 610.1 767 613.8M768.4 678.3Q766.9 681.7 767 685.4M768.4 749.9Q766.9 753.3 767 757M769.7 821.8Q769 825.5 768.3 829.1M515.4 531.4Q516.1 527.7 516.9 524.1M516.7 603.2Q518.1 599.8 518.2 596M516.7 674.8Q518.1 671.4 518.2 667.6M516.7 746.4Q518.1 743 518.2 739.2M516.7 818Q518.1 814.6 518.2 810.8M620.1 531.4Q620.8 527.7 621.6 524.1M621.4 603.2Q622.8 599.8 622.9 596M621.4 674.8Q622.8 671.4 622.9 667.6M621.4 746.4Q622.8 743 622.9 739.2M621.4 818Q622.8 814.6 622.9 810.8M724.8 531.4Q725.5 527.7 726.3 524.1M726.1 603.2Q727.5 599.8 727.6 596M726.1 674.8Q727.5 671.4 727.6 667.6M726.1 746.4Q727.5 743 727.6 739.2M726.1 818Q727.5 814.6 727.6 810.8M481.7 592.4Q485.3 592.1 488.8 591.9M481.7 664Q485.3 663.7 488.8 663.5M481.7 735.6Q485.3 735.3 488.8 735.1M481.7 807.2Q485.3 806.9 488.8 806.7M586.2 591.8Q589.8 590.9 593.4 591.1M586.2 663.4Q589.8 662.5 593.4 662.7M586.2 735Q589.8 734.1 593.4 734.3M586.3 807.6Q589.9 807.3 593.5 806.9M690.9 591.8Q694.5 590.9 698.1 591.1M690.9 663.4Q694.5 662.5 698.1 662.7M690.9 735Q694.5 734.1 698.1 734.3M691 807.6Q694.6 807.3 698.2 806.9M568.2 553.1Q565.7 550.2 562.3 548.4M567.4 625.7Q564.4 623.4 561.5 621M567.4 697.3Q564.4 695 561.5 692.6M567.4 768.9Q564.4 766.6 561.5 764.2M671.6 554.7Q668.4 552.7 665.7 550M672.1 625.7Q669.1 623.4 666.2 621M672.1 697.3Q669.1 695 666.2 692.6M672.1 768.9Q669.1 766.6 666.2 764.2M777.6 553.1Q775.1 550.2 771.7 548.4M776.8 625.7Q773.8 623.4 770.9 621M776.8 697.3Q773.8 695 770.9 692.6M776.8 768.9Q773.8 766.6 770.9 764.2M494.4 524.4Q495.7 527.9 496.9 531.3M493.2 596.2Q493.8 600 495.7 603.3M493.2 667.8Q493.8 671.6 495.7 674.9M493.2 739.4Q493.8 743.2 495.7 746.5M493.2 811Q493.8 814.8 495.7 818.1M599.1 524.4Q600.4 527.9 601.6 531.3M598.6 596Q599.5 599.6 601 603M598.6 667.6Q599.5 671.2 601 674.6M598.6 739.2Q599.5 742.8 601 746.2M597.9 811Q598.5 814.8 600.4 818.1M703.8 524.4Q705.1 527.9 706.3 531.3M703.3 596Q704.2 599.6 705.7 603M703.3 667.6Q704.2 671.2 705.7 674.6M703.3 739.2Q704.2 742.8 705.7 746.2M702.6 811Q703.2 814.8 705.1 818.1M505.3 560.2Q505.2 563.9 506.6 567.4M505.3 631.8Q505.2 635.5 506.6 639M505.3 703.4Q505.2 707.1 506.6 710.6M505.3 775Q505.2 778.7 506.6 782.2M610 560.2Q609.9 563.9 611.3 567.4M610 631.8Q609.9 635.5 611.3 639M610 703.4Q609.9 707.1 611.3 710.6M610 775Q609.9 778.7 611.3 782.2M714.7 560.2Q714.6 563.9 716 567.4M714.7 631.8Q714.6 635.5 716 639M714.7 703.4Q714.6 707.1 716 710.6M714.7 775Q714.6 778.7 716 782.2" stroke="#c75a45" stroke-width="2.2"/>
</g>
<text transform="translate(509.7 604.5) scale(1.04 1.0)" font-family='"Liberation Sans",sans-serif' font-size="44" font-weight="bold" font-style="italic" fill="#111" textLength="136.1" lengthAdjust="spacing">ZSM-5</text>
<circle cx="989" cy="291" r="233" fill="#cfd8e0" stroke="#4d4e50" stroke-width="6"/>
<circle cx="237" cy="970.5" r="232.5" fill="#f5bfc1" stroke="#4d4e50" stroke-width="6"/>
<line x1="700.3" y1="658.2" x2="1075.9" y2="507.2" stroke="#4d4e50" stroke-width="5.2" stroke-linecap="round" />
<line x1="676.9" y1="638.5" x2="761.1" y2="242.5" stroke="#4d4e50" stroke-width="5.2" stroke-linecap="round" />
<line x1="586.5" y1="694.2" x2="209.2" y2="739.7" stroke="#4d4e50" stroke-width="5.2" stroke-linecap="round" />
<line x1="604.4" y1="718.5" x2="449.2" y2="1065.4" stroke="#4d4e50" stroke-width="5.2" stroke-linecap="round" />
<circle cx="693.8" cy="642.1" r="17.3" fill="#cfd8e0" stroke="#4d4e50" stroke-width="4.2"/>
<circle cx="588.6" cy="711.4" r="17.3" fill="#f5bfc1" stroke="#4d4e50" stroke-width="4.2"/>
<line x1="1023.4" y1="220" x2="1018.2" y2="189" stroke="#151515" stroke-width="7" stroke-linecap="round" />
<line x1="1063.5" y1="231.4" x2="1094.5" y2="213.8" stroke="#151515" stroke-width="7" stroke-linecap="round" />
<line x1="1062" y1="276" x2="1093.5" y2="289.3" stroke="#151515" stroke-width="7" stroke-linecap="round" />
<line x1="985.2" y1="289.3" x2="1008" y2="271.8" stroke="#151515" stroke-width="6.6" stroke-linecap="round" />
<line x1="990.6" y1="296.4" x2="1013" y2="279.2" stroke="#151515" stroke-width="6.6" stroke-linecap="round" />
<circle cx="1035.2" cy="253.2" r="35.8" fill="url(#gP)"/>
<circle cx="1035.2" cy="253.2" r="35.8" fill="url(#shade)"/>
<circle cx="1035.2" cy="253.2" r="35.8" fill="url(#rim)"/>
<ellipse cx="1054.9" cy="242.5" rx="10.7" ry="15" fill="url(#hl)" transform="rotate(35 1054.9 242.5)"/>
<text x="1037" y="268.6" font-family='"Liberation Serif","Noto Serif CJK SC",serif' font-size="45.7" font-weight="bold" font-style="normal" fill="#111" text-anchor="middle" >P</text>
<text x="973.4" y="322" font-family='"Liberation Serif","Noto Serif CJK SC",serif' font-size="47.5" font-weight="bold" font-style="normal" fill="#111" text-anchor="middle" textLength="36" lengthAdjust="spacingAndGlyphs" >O</text>
<line x1="936.6" y1="345.4" x2="942" y2="340.4" stroke="#151515" stroke-width="7.2" stroke-linecap="round" />
<line x1="950.8" y1="331.2" x2="957.5" y2="325" stroke="#151515" stroke-width="7.2" stroke-linecap="round" />
<line x1="846" y1="360.5" x2="868" y2="369" stroke="#151515" stroke-width="7" stroke-linecap="round" />
<line x1="804" y1="364" x2="771" y2="376" stroke="#151515" stroke-width="7" stroke-linecap="round" />
<line x1="877" y1="403.7" x2="862" y2="416.2" stroke="#151515" stroke-width="7" stroke-linecap="round" />
<line x1="834.9" y1="444.2" x2="824" y2="455" stroke="#151515" stroke-width="7" stroke-linecap="round" />
<line x1="909" y1="410" x2="913" y2="433.5" stroke="#151515" stroke-width="7" stroke-linecap="round" />
<line x1="906" y1="475.4" x2="893" y2="502" stroke="#151515" stroke-width="7" stroke-linecap="round" />
<circle cx="900.3" cy="375.7" r="35.6" fill="url(#gAl)"/>
<circle cx="900.3" cy="375.7" r="35.6" fill="url(#shade)"/>
<circle cx="900.3" cy="375.7" r="35.6" fill="url(#rim)"/>
<ellipse cx="919.9" cy="365" rx="10.7" ry="15" fill="url(#hl)" transform="rotate(35 919.9 365)"/>
<text x="866" y="389.5" font-family='"Liberation Serif","Noto Serif CJK SC",serif' font-size="46" font-weight="bold" font-style="normal" fill="#111" text-anchor="start" textLength="47" lengthAdjust="spacingAndGlyphs" >Al</text>
<text x="917.8" y="389.5" font-family='"Liberation Serif","Noto Serif CJK SC",serif' font-size="23" font-weight="bold" font-style="normal" fill="#111" text-anchor="start" textLength="19.5" lengthAdjust="spacingAndGlyphs" stroke="#111" stroke-width="0.7">Ⅲ</text>
<text x="824.9" y="376" font-family='"Liberation Serif","Noto Serif CJK SC",serif' font-size="47.5" font-weight="bold" font-style="normal" fill="#111" text-anchor="middle" textLength="36" lengthAdjust="spacingAndGlyphs" >O</text>
<text x="847.3" y="446" font-family='"Liberation Serif","Noto Serif CJK SC",serif' font-size="47.5" font-weight="bold" font-style="normal" fill="#111" text-anchor="middle" textLength="36" lengthAdjust="spacingAndGlyphs" >O</text>
<text x="913" y="470" font-family='"Liberation Serif","Noto Serif CJK SC",serif' font-size="47.5" font-weight="bold" font-style="normal" fill="#111" text-anchor="middle" textLength="36" lengthAdjust="spacingAndGlyphs" >O</text>
<line x1="176" y1="814" x2="158.8" y2="794" stroke="#151515" stroke-width="7" stroke-linecap="round" />
<line x1="218.8" y1="802" x2="229" y2="784" stroke="#151515" stroke-width="7" stroke-linecap="round" />
<line x1="241" y1="837.8" x2="267.4" y2="831.7" stroke="#151515" stroke-width="7" stroke-linecap="round" />
<line x1="188.6" y1="870" x2="182.7" y2="892.9" stroke="#151515" stroke-width="7.2" stroke-linecap="round" />
<line x1="198.4" y1="872.5" x2="191.1" y2="897.2" stroke="#151515" stroke-width="7.2" stroke-linecap="round" />
<circle cx="203.8" cy="835.7" r="35.6" fill="url(#gP)"/>
<circle cx="203.8" cy="835.7" r="35.6" fill="url(#shade)"/>
<circle cx="203.8" cy="835.7" r="35.6" fill="url(#rim)"/>
<ellipse cx="223.4" cy="825" rx="10.7" ry="15" fill="url(#hl)" transform="rotate(35 223.4 825)"/>
<text x="205.4" y="853.6" font-family='"Liberation Serif","Noto Serif CJK SC",serif' font-size="45.7" font-weight="bold" font-style="normal" fill="#111" text-anchor="middle" >P</text>
<text x="181.5" y="933" font-family='"Liberation Serif","Noto Serif CJK SC",serif' font-size="47.5" font-weight="bold" font-style="normal" fill="#111" text-anchor="middle" textLength="36" lengthAdjust="spacingAndGlyphs" >O</text>
<text x="149.2" y="932.6" font-family='"Liberation Serif","Noto Serif CJK SC",serif' font-size="50" font-weight="normal" font-style="normal" fill="#111" text-anchor="middle" stroke="#111" stroke-width="1.3">+</text>
<line x1="189.8" y1="940.3" x2="194.8" y2="944.6" stroke="#151515" stroke-width="7.4" stroke-linecap="round" />
<line x1="205.2" y1="954.6" x2="211.6" y2="958.6" stroke="#151515" stroke-width="7.4" stroke-linecap="round" />
<text x="222" y="976.3" font-family='"Liberation Serif","Noto Serif CJK SC",serif' font-size="47" font-weight="bold" font-style="normal" fill="#111" text-anchor="start" textLength="34.5" lengthAdjust="spacingAndGlyphs" >H</text>
<line x1="353.3" y1="872.2" x2="363.9" y2="852" stroke="#151515" stroke-width="7" stroke-linecap="round" />
<line x1="385" y1="819.5" x2="402" y2="805.3" stroke="#151515" stroke-width="7" stroke-linecap="round" />
<line x1="378.8" y1="897.7" x2="396.3" y2="890.4" stroke="#151515" stroke-width="7" stroke-linecap="round" />
<line x1="430.3" y1="881.5" x2="447.7" y2="875" stroke="#151515" stroke-width="7" stroke-linecap="round" />
<line x1="367.5" y1="935" x2="396.3" y2="952.4" stroke="#151515" stroke-width="7" stroke-linecap="round" />
<line x1="435.6" y1="958" x2="469.2" y2="958" stroke="#151515" stroke-width="7" stroke-linecap="round" />
<circle cx="343.2" cy="907.9" r="35.6" fill="url(#gAl)"/>
<circle cx="343.2" cy="907.9" r="35.6" fill="url(#shade)"/>
<circle cx="343.2" cy="907.9" r="35.6" fill="url(#rim)"/>
<ellipse cx="362.8" cy="897.2" rx="10.7" ry="15" fill="url(#hl)" transform="rotate(35 362.8 897.2)"/>
<text x="309" y="921.7" font-family='"Liberation Serif","Noto Serif CJK SC",serif' font-size="46" font-weight="bold" font-style="normal" fill="#111" text-anchor="start" textLength="47" lengthAdjust="spacingAndGlyphs" >Al</text>
<text x="360.8" y="921.7" font-family='"Liberation Serif","Noto Serif CJK SC",serif' font-size="23" font-weight="bold" font-style="normal" fill="#111" text-anchor="start" textLength="19.5" lengthAdjust="spacingAndGlyphs" stroke="#111" stroke-width="0.7">Ⅲ</text>
<text x="374.8" y="849.7" font-family='"Liberation Serif","Noto Serif CJK SC",serif' font-size="47.5" font-weight="bold" font-style="normal" fill="#111" text-anchor="middle" textLength="36" lengthAdjust="spacingAndGlyphs" >O</text>
<text x="413.3" y="901.6" font-family='"Liberation Serif","Noto Serif CJK SC",serif' font-size="47.5" font-weight="bold" font-style="normal" fill="#111" text-anchor="middle" textLength="36" lengthAdjust="spacingAndGlyphs" >O</text>
<text x="417.3" y="973.3" font-family='"Liberation Serif","Noto Serif CJK SC",serif' font-size="47.5" font-weight="bold" font-style="normal" fill="#111" text-anchor="middle" textLength="36" lengthAdjust="spacingAndGlyphs" >O</text>
<line x1="100.5" y1="1055.4" x2="123" y2="1055.4" stroke="#151515" stroke-width="7" stroke-linecap="round" />
<line x1="62" y1="1061" x2="33.2" y2="1079.3" stroke="#151515" stroke-width="7" stroke-linecap="round" />
<line x1="135" y1="1088.6" x2="121.6" y2="1099.5" stroke="#151515" stroke-width="7" stroke-linecap="round" />
<line x1="97.2" y1="1123.8" x2="81" y2="1142" stroke="#151515" stroke-width="7" stroke-linecap="round" />
<line x1="168.2" y1="1092" x2="171.4" y2="1111.7" stroke="#151515" stroke-width="7" stroke-linecap="round" />
<line x1="167.3" y1="1154.2" x2="158" y2="1187.5" stroke="#151515" stroke-width="7" stroke-linecap="round" />
<line x1="195.3" y1="1056.2" x2="224" y2="1051" stroke="#151515" stroke-width="7" stroke-linecap="round" />
<line x1="264.2" y1="1053" x2="285" y2="1060.2" stroke="#151515" stroke-width="7" stroke-linecap="round" />
<line x1="349.3" y1="1042.8" x2="378.8" y2="1024.6" stroke="#151515" stroke-width="7" stroke-linecap="round" />
<line x1="421.4" y1="1021.7" x2="459" y2="1032.7" stroke="#151515" stroke-width="7" stroke-linecap="round" />
<line x1="349.3" y1="1084.5" x2="368" y2="1096.7" stroke="#151515" stroke-width="7" stroke-linecap="round" />
<line x1="399" y1="1117" x2="408" y2="1124.6" stroke="#151515" stroke-width="7" stroke-linecap="round" />
<line x1="306.7" y1="1099.5" x2="301.9" y2="1123.8" stroke="#151515" stroke-width="7" stroke-linecap="round" />
<line x1="299.8" y1="1162.3" x2="311.2" y2="1190" stroke="#151515" stroke-width="7" stroke-linecap="round" />
<circle cx="158.4" cy="1058.4" r="35.7" fill="url(#gAl)"/>
<circle cx="158.4" cy="1058.4" r="35.7" fill="url(#shade)"/>
<circle cx="158.4" cy="1058.4" r="35.7" fill="url(#rim)"/>
<ellipse cx="178" cy="1047.7" rx="10.7" ry="15" fill="url(#hl)" transform="rotate(35 178 1047.7)"/>
<circle cx="318.4" cy="1064.1" r="35.7" fill="url(#gSi)"/>
<circle cx="318.4" cy="1064.1" r="35.7" fill="url(#shade)"/>
<circle cx="318.4" cy="1064.1" r="35.7" fill="url(#rim)"/>
<ellipse cx="338" cy="1053.4" rx="10.7" ry="15" fill="url(#hl)" transform="rotate(35 338 1053.4)"/>
<text x="123.5" y="1073.7" font-family='"Liberation Serif","Noto Serif CJK SC",serif' font-size="46" font-weight="bold" font-style="normal" fill="#111" text-anchor="start" textLength="48" lengthAdjust="spacingAndGlyphs" >Al</text>
<text x="172.8" y="1073.7" font-family='"Liberation Serif","Noto Serif CJK SC",serif' font-size="22" font-weight="bold" font-style="normal" fill="#111" text-anchor="start" textLength="21.5" lengthAdjust="spacingAndGlyphs" stroke="#111" stroke-width="0.6">Ⅳ</text>
<text x="290" y="1079.4" font-family='"Liberation Serif","Noto Serif CJK SC",serif' font-size="46" font-weight="bold" font-style="normal" fill="#e6e1e6" text-anchor="start" textLength="37" lengthAdjust="spacingAndGlyphs" >Si</text>
<text x="327.2" y="1079.4" font-family='"Liberation Serif","Noto Serif CJK SC",serif' font-size="21" font-weight="bold" font-style="normal" fill="#e6e1e6" text-anchor="start" textLength="24" lengthAdjust="spacingAndGlyphs" stroke="#e6e1e6" stroke-width="0.5">Ⅳ</text>
<line x1="184" y1="1020.4" x2="197.1" y2="1020.4" stroke="#151515" stroke-width="4" stroke-linecap="butt" />
<text x="83" y="1074.2" font-family='"Liberation Serif","Noto Serif CJK SC",serif' font-size="47.5" font-weight="bold" font-style="normal" fill="#111" text-anchor="middle" textLength="36" lengthAdjust="spacingAndGlyphs" >O</text>
<text x="108.6" y="1127.7" font-family='"Liberation Serif","Noto Serif CJK SC",serif' font-size="47.5" font-weight="bold" font-style="normal" fill="#111" text-anchor="middle" textLength="36" lengthAdjust="spacingAndGlyphs" >O</text>
<text x="173" y="1149.2" font-family='"Liberation Serif","Noto Serif CJK SC",serif' font-size="47.5" font-weight="bold" font-style="normal" fill="#111" text-anchor="middle" textLength="36" lengthAdjust="spacingAndGlyphs" >O</text>
<text x="245" y="1069" font-family='"Liberation Serif","Noto Serif CJK SC",serif' font-size="47.5" font-weight="bold" font-style="normal" fill="#111" text-anchor="middle" textLength="36" lengthAdjust="spacingAndGlyphs" >O</text>
<text x="400.3" y="1036.5" font-family='"Liberation Serif","Noto Serif CJK SC",serif' font-size="47.5" font-weight="bold" font-style="normal" fill="#111" text-anchor="middle" textLength="36" lengthAdjust="spacingAndGlyphs" >O</text>
<text x="387" y="1122.4" font-family='"Liberation Serif","Noto Serif CJK SC",serif' font-size="47.5" font-weight="bold" font-style="normal" fill="#111" text-anchor="middle" textLength="36" lengthAdjust="spacingAndGlyphs" >O</text>
<text x="299" y="1160" font-family='"Liberation Serif","Noto Serif CJK SC",serif' font-size="47.5" font-weight="bold" font-style="normal" fill="#111" text-anchor="middle" textLength="36" lengthAdjust="spacingAndGlyphs" >O</text>
<text x="23.6" y="17.5" font-family='"Liberation Serif","Noto Serif CJK SC",serif' font-size="23" font-weight="bold" font-style="normal" fill="#111" text-anchor="start" textLength="26.2" lengthAdjust="spacingAndGlyphs" >27</text>
<text x="54" y="42.8" font-family='"Liberation Serif","Noto Serif CJK SC",serif' font-size="51" font-weight="bold" font-style="normal" fill="#111" text-anchor="start" textLength="191" lengthAdjust="spacingAndGlyphs" >Al NMR</text>
<text x="914.8" y="38.3" font-family='"Liberation Serif","Noto Serif CJK SC",serif' font-size="50" font-weight="bold" font-style="normal" fill="#111" text-anchor="start" textLength="105" lengthAdjust="spacingAndGlyphs" >LAS</text>
<text x="1021.2" y="38.3" font-family='"Liberation Serif","Noto Serif CJK SC",serif' font-size="28" font-weight="bold" font-style="normal" fill="#111" text-anchor="start" textLength="41" lengthAdjust="spacingAndGlyphs" >FR</text>
<text x="48.3" y="703" font-family='"Liberation Serif","Noto Serif CJK SC",serif' font-size="48.5" font-weight="bold" font-style="normal" fill="#111" text-anchor="start" textLength="107.5" lengthAdjust="spacingAndGlyphs" >BAS</text>
<text x="155.5" y="703" font-family='"Liberation Serif","Noto Serif CJK SC",serif' font-size="28" font-weight="bold" font-style="normal" fill="#111" text-anchor="start" textLength="39.5" lengthAdjust="spacingAndGlyphs" >FR</text>
<line x1="198" y1="691.6" x2="212.5" y2="691.6" stroke="#151515" stroke-width="4.2" stroke-linecap="butt" />
<text x="217" y="703" font-family='"Liberation Serif","Noto Serif CJK SC",serif' font-size="48.5" font-weight="bold" font-style="normal" fill="#111" text-anchor="start" textLength="105.5" lengthAdjust="spacingAndGlyphs" >LAS</text>
<text x="323.4" y="703" font-family='"Liberation Serif","Noto Serif CJK SC",serif' font-size="28" font-weight="bold" font-style="normal" fill="#111" text-anchor="start" textLength="41" lengthAdjust="spacingAndGlyphs" >FR</text>
<text x="968.4" y="718.3" font-family='"Liberation Serif","Noto Serif CJK SC",serif' font-size="23" font-weight="bold" font-style="normal" fill="#111" text-anchor="start" textLength="25.3" lengthAdjust="spacingAndGlyphs" >31</text>
<text x="1000.2" y="743.4" font-family='"Liberation Serif","Noto Serif CJK SC",serif' font-size="50" font-weight="bold" font-style="normal" fill="#111" text-anchor="start" textLength="166" lengthAdjust="spacingAndGlyphs" >P NMR</text>
<text transform="translate(123.6 1255.5) scale(1.0 1.05)" font-family='"Liberation Sans",sans-serif' font-size="44" font-weight="bold" font-style="italic" fill="#111" textLength="225.7" lengthAdjust="spacing">Superacid</text>
<text transform="translate(608.5 985.5) scale(1.0 1.05)" font-family='"Liberation Sans",sans-serif' font-size="44" font-weight="bold" font-style="italic" fill="#111" textLength="226.4" lengthAdjust="spacing">Superacid</text>
<rect x="978.5" y="819.4" width="10.5" height="60.6" fill="#f3ecec"/>
<text transform="translate(899.5 866.4) scale(0.87 1.0)" font-family='"Liberation Sans",sans-serif' font-size="44" font-weight="bold" font-style="italic" fill="#111" textLength="90" lengthAdjust="spacing">LAS</text>
<path d="M36 467.8L37.5 467.8L39 467.8L40.5 467.8L42 467.8L43.5 467.8L45 467.8L46.5 467.8L48 467.8L49.5 467.7L51 467.7L52.5 467.7L54 467.7L55.5 467.7L57 467.7L58.5 467.7L60 467.7L61.5 467.7L63 467.7L64.5 467.7L66 467.7L67.5 467.6L69 467.6L70.5 467.6L72 467.6L73.5 467.6L75 467.6L76.5 467.6L78 467.6L79.5 467.6L81 467.6L82.5 467.6L84 467.5L85.5 467.5L87 467.5L88.5 467.5L90 467.5L91.5 467.5L93 467.5L94.5 467.5L96 467.5L97.5 467.4L99 467.4L100.5 467.4L102 467.4L103.5 467.4L105 467.4L106.5 467.4L108 467.4L109.5 467.3L111 467.3L112.5 467.3L114 467.3L115.5 467.3L117 467.3L118.5 467.3L120 467.2L121.5 467.2L123 467.2L124.5 467.2L126 467.2L127.5 467.2L129 467.2L130.5 467.1L132 467.1L133.5 467.1L135 467.1L136.5 467.1L138 467L139.5 467L141 467L142.5 467L144 467L145.5 467L147 466.9L148.5 466.9L150 466.9L151.5 466.9L153 466.9L154.5 466.8L156 466.7L157.5 466.6L159 466.5L160.5 466.4L162 466.3L163.5 466.2L165 466.1L166.5 466L168 465.8L169.5 465.7L171 465.5L172.5 465.4L174 465.2L175.5 465L177 464.8L178.5 464.6L180 464.4L181.5 464.2L183 463.9L184.5 463.7L186 463.4L187.5 463.1L189 462.8L190.5 462.4L192 462L193.5 461.6L195 461.2L196.5 460.7L198 460.2L199.5 459.6L201 459.1L202.5 458.4L204 457.7L205.5 457L207 456.2L208.5 455.3L210 454.4L211.5 453.4L213 452.3L214.5 451.1L216 449.8L217.5 448.3L219 446.8L220.5 445.1L222 443.3L223.5 441.4L225 439.2L226.5 436.9L228 434.3L229.5 431.5L231 428.5L232.5 425.2L234 421.6L235.5 417.7L237 413.5L238.5 408.8L240 403.8L241.5 398.3L243 392.4L244.5 385.9L246 379L247.5 371.4L249 363.3L250.5 354.5L252 345.2L253.5 335.1L255 324.4L256.5 313L258 301.1L259.5 288.6L261 275.6L262.5 262.3L264 248.7L265.5 235.1L267 221.7L268.5 208.7L270 196.4L271.5 185L273 174.9L274.5 166.2L276 159.2L277.5 154.1L279 151.1L280.5 150.3L282 151.2L283.5 153.9L285 158.3L286.5 164.1L288 171.3L289.5 179.6L291 188.8L292.5 198.8L294 209.3L295.5 220L297 231L298.5 241.9L300 252.7L301.5 263.3L303 273.5L304.5 283.4L306 292.9L307.5 301.9L309 310.4L310.5 318.5L312 326L313.5 333.1L315 339.7L316.5 345.7L318 351.3L319.5 356.5L321 361.2L322.5 365.5L324 369.4L325.5 372.9L327 376L328.5 378.8L330 381.3L331.5 383.5L333 385.4L334.5 387.1L336 388.6L337.5 389.9L339 391L340.5 392L342 392.8L343.5 393.6L345 394.3L346.5 394.9L348 395.6L349.5 396.2L351 396.8L352.5 397.5L354 398.2L355.5 399L357 399.8L358.5 400.8L360 401.8L361.5 402.9L363 403.9L364.5 405L366 406L367.5 407.1L369 408.2L370.5 409.3L372 410.4L373.5 411.5L375 412.6L376.5 413.7L378 414.8L379.5 415.9L381 417.1L382.5 418.2L384 419.4L385.5 420.6L387 421.7L388.5 422.9L390 424.1L391.5 425.3L393 426.5L394.5 427.4L396 428.3L397.5 429.2L399 430.1L400.5 431.1L402 432L403.5 433L405 434L406.5 434.9L408 435.9L409.5 436.9L411 437.9L412.5 438.8L414 439.8L415.5 440.7L417 441.7L418.5 442.6L420 443.6L421.5 444.5L423 445.4L424.5 446.3L426 447.2L427.5 448L429 448.9L430.5 449.7L432 450.6L433.5 451.4L435 452.2L436.5 452.9L438 453.7L439.5 454.4L441 455.1L442.5 455.8L444 456.5L445.5 457.2L447 457.8L448.5 458.4L450 459L451.5 459.6L453 460.1L454.5 460.7L456 461.1L457.5 461.4L459 461.7L460.5 462L462 462.3L463.5 462.6L465 462.9L466.5 463.1L468 463.4L469.5 463.6L471 463.8L472.5 464L474 464.2L475.5 464.4L477 464.5L478.5 464.7L480 464.9L481.5 465L483 465.1L484.5 465.3L486 465.4L487.5 465.5L489 465.6L490.5 465.7L492 465.8L493.5 465.9L495 466L496.5 466.1L498 466.2L499.5 466.3L501 466.4L502.5 466.4L504 466.5L505.5 466.6L507 466.7L508.5 466.7L510 466.8L511.5 466.9L513 466.9L514.5 467L516 467L517.5 467.1L519 467.1L520.5 467.2L522 467.2L523.5 467.3L525 467.3L526.5 467.4L528 467.4L529.5 467.5L531 467.5L532.5 467.6L534 467.6L535.5 467.6L537 467.7L538.5 467.7L540 467.8L541.5 467.8L543 467.8L544.5 467.9L546 467.9L547.5 467.9L549 468L550.5 468L552 468L553.5 468.1L555 468.1L556.5 468.1L558 468.2L559.5 468.2L561 468.2L562.5 468.2L564 468.3L565.5 468.3L567 468.3L568.5 468.4L570 468.4L571.5 468.4L573 468.4L574.5 468.5L576 468.5L577.5 468.5L579 468.5L580.5 468.6L582 468.6L583.5 468.6L585 468.6L586.5 468.7L588 468.7L589.5 468.7L591 468.7L592.5 468.7" fill="none" stroke="#7d7f82" stroke-width="4.4" stroke-linejoin="round" stroke-linecap="round"/>
<path d="M36 470.3L37.5 470.3L39 470.3L40.5 470.3L42 470.3L43.5 470.3L45 470.3L46.5 470.3L48 470.3L49.5 470.2L51 470.2L52.5 470.2L54 470.2L55.5 470.2L57 470.2L58.5 470.2L60 470.2L61.5 470.2L63 470.2L64.5 470.2L66 470.2L67.5 470.1L69 470.1L70.5 470.1L72 470.1L73.5 470.1L75 470.1L76.5 470.1L78 470.1L79.5 470.1L81 470.1L82.5 470.1L84 470L85.5 470L87 470L88.5 470L90 470L91.5 470L93 470L94.5 470L96 470L97.5 469.9L99 469.9L100.5 469.9L102 469.9L103.5 469.9L105 469.9L106.5 469.9L108 469.9L109.5 469.8L111 469.8L112.5 469.8L114 469.8L115.5 469.8L117 469.8L118.5 469.8L120 469.7L121.5 469.7L123 469.7L124.5 469.7L126 469.7L127.5 469.7L129 469.7L130.5 469.6L132 469.6L133.5 469.6L135 469.6L136.5 469.6L138 469.5L139.5 469.5L141 469.5L142.5 469.5L144 469.5L145.5 469.5L147 469.4L148.5 469.4L150 469.4L151.5 469.4L153 469.4L154.5 469.3L156 469.2L157.5 469.1L159 469L160.5 468.9L162 468.8L163.5 468.7L165 468.6L166.5 468.5L168 468.3L169.5 468.2L171 468L172.5 467.9L174 467.7L175.5 467.5L177 467.3L178.5 467.1L180 466.9L181.5 466.7L183 466.4L184.5 466.2L186 465.9L187.5 465.6L189 465.3L190.5 464.9L192 464.5L193.5 464.1L195 463.7L196.5 463.2L198 462.7L199.5 462.1L201 461.6L202.5 460.9L204 460.2L205.5 459.5L207 458.7L208.5 457.8L210 456.9L211.5 455.9L213 454.8L214.5 453.6L216 452.3L217.5 450.8L219 449.3L220.5 447.6L222 445.8L223.5 443.9L225 441.7L226.5 439.4L228 436.8L229.5 434L231 431L232.5 427.7L234 424.1L235.5 420.2L237 416L238.5 411.4L240 406.4L241.5 400.9L243 395.1L244.5 388.7L246 381.9L247.5 374.5L249 366.6L250.5 358.2L252 349.2L253.5 339.7L255 329.6L256.5 319.1L258 308.1L259.5 296.8L261 285.1L262.5 273.3L264 261.5L265.5 249.8L267 238.3L268.5 227.4L270 217.1L271.5 207.7L273 199.3L274.5 192.3L276 186.6L277.5 182.5L279 180.2L280.5 179.5L282 180.4L283.5 182.7L285 186.3L286.5 191.2L288 197.3L289.5 204.5L291 212.6L292.5 221.6L294 231.2L295.5 241.5L297 252.2L298.5 263.2L300 274.5L301.5 285.8L303 297.1L304.5 308.4L306 319.5L307.5 330.3L309 340.7L310.5 350.8L312 360.5L313.5 369.7L315 378.5L316.5 386.7L318 394.4L319.5 401.5L321 408.2L322.5 414.3L324 419.9L325.5 425L327 429.7L328.5 433.9L330 437.7L331.5 441.1L333 444.2L334.5 446.9L336 449.3L337.5 451.5L339 453.4L340.5 455L342 456.5L343.5 457.8L345 458.9L346.5 459.9L348 460.7L349.5 461.5L351 462.1L352.5 462.7L354 463.2L355.5 463.7L357 464.1L358.5 464.4L360 464.8L361.5 465L363 465.3L364.5 465.5L366 465.7L367.5 465.9L369 466.1L370.5 466.3L372 466.4L373.5 466.6L375 466.7L376.5 466.9L378 467L379.5 467.1L381 467.2L382.5 467.3L384 467.4L385.5 467.5L387 467.6L388.5 467.7L390 467.7L391.5 467.8L393 467.8L394.5 467.9L396 467.9L397.5 467.9L399 468L400.5 468L402 468.1L403.5 468.1L405 468.1L406.5 468.2L408 468.2L409.5 468.3L411 468.3L412.5 468.3L414 468.4L415.5 468.4L417 468.4L418.5 468.5L420 468.5L421.5 468.5L423 468.6L424.5 468.6L426 468.6L427.5 468.7L429 468.7L430.5 468.7L432 468.8L433.5 468.8L435 468.8L436.5 468.8L438 468.9L439.5 468.9L441 468.9L442.5 469L444 469L445.5 469L447 469L448.5 469.1L450 469.1L451.5 469.1L453 469.1L454.5 469.2L456 469.2L457.5 469.2L459 469.2L460.5 469.3L462 469.3L463.5 469.3L465 469.3L466.5 469.3L468 469.4L469.5 469.4L471 469.4L472.5 469.4L474 469.4L475.5 469.5L477 469.5L478.5 469.5L480 469.5L481.5 469.5L483 469.6L484.5 469.6L486 469.6L487.5 469.6L489 469.6L490.5 469.6L492 469.7L493.5 469.7L495 469.7L496.5 469.7L498 469.7L499.5 469.7L501 469.8L502.5 469.8L504 469.8L505.5 469.8L507 469.8L508.5 469.8L510 469.8L511.5 469.9L513 469.9L514.5 469.9L516 469.9L517.5 469.9L519 469.9L520.5 469.9L522 469.9L523.5 470L525 470L526.5 470L528 470L529.5 470L531 470L532.5 470L534 470L535.5 470L537 470L538.5 470.1L540 470.1L541.5 470.1L543 470.1L544.5 470.1L546 470.1L547.5 470.1L549 470.1L550.5 470.1L552 470.1L553.5 470.2L555 470.2L556.5 470.2L558 470.2L559.5 470.2L561 470.2L562.5 470.2L564 470.2L565.5 470.2L567 470.2L568.5 470.2L570 470.2L571.5 470.2L573 470.3L574.5 470.3L576 470.3L577.5 470.3L579 470.3L580.5 470.3L582 470.3L583.5 470.3L585 470.3L586.5 470.3L588 470.3L589.5 470.3L591 470.3L592.5 470.3L592.5 473L36 473Z" fill="#009d4f"/>
<path d="M36 471L37.5 471L39 471L40.5 471L42 471L43.5 471L45 471L46.5 471L48 471L49.5 471L51 471L52.5 471L54 471L55.5 471L57 471L58.5 471L60 471L61.5 471L63 471L64.5 471L66 471L67.5 471L69 471L70.5 471L72 471L73.5 471L75 471L76.5 471L78 471L79.5 471L81 471L82.5 471L84 471L85.5 471L87 471L88.5 471L90 471L91.5 471L93 471L94.5 471L96 471L97.5 471L99 471L100.5 471L102 471L103.5 471L105 471L106.5 471L108 471L109.5 471L111 471L112.5 471L114 471L115.5 471L117 471L118.5 471L120 471L121.5 471L123 471L124.5 471L126 471L127.5 471L129 471L130.5 471L132 471L133.5 471L135 471L136.5 471L138 471L139.5 471L141 471L142.5 471L144 471L145.5 471L147 471L148.5 471L150 470.9L151.5 470.9L153 470.9L154.5 470.9L156 470.9L157.5 470.9L159 470.9L160.5 470.9L162 470.9L163.5 470.9L165 470.9L166.5 470.8L168 470.8L169.5 470.8L171 470.8L172.5 470.8L174 470.8L175.5 470.7L177 470.7L178.5 470.7L180 470.6L181.5 470.6L183 470.6L184.5 470.5L186 470.5L187.5 470.5L189 470.4L190.5 470.4L192 470.3L193.5 470.2L195 470.2L196.5 470.1L198 470L199.5 470L201 469.9L202.5 469.8L204 469.7L205.5 469.6L207 469.5L208.5 469.3L210 469.2L211.5 469.1L213 468.9L214.5 468.8L216 468.6L217.5 468.5L219 468.3L220.5 468.1L222 467.9L223.5 467.7L225 467.5L226.5 467.2L228 467L229.5 466.7L231 466.4L232.5 466.1L234 465.8L235.5 465.5L237 465.2L238.5 464.8L240 464.4L241.5 464.1L243 463.7L244.5 463.2L246 462.8L247.5 462.3L249 461.9L250.5 461.4L252 460.9L253.5 460.3L255 459.8L256.5 459.2L258 458.6L259.5 458L261 457.4L262.5 456.7L264 456L265.5 455.4L267 454.6L268.5 453.9L270 453.2L271.5 452.4L273 451.6L274.5 450.8L276 450L277.5 449.2L279 448.3L280.5 447.5L282 446.6L283.5 445.7L285 444.8L286.5 443.9L288 442.9L289.5 442L291 441.1L292.5 440.1L294 439.1L295.5 438.2L297 437.2L298.5 436.2L300 435.3L301.5 434.3L303 433.3L304.5 432.4L306 431.4L307.5 430.5L309 429.5L310.5 428.6L312 427.7L313.5 426.8L315 425.9L316.5 425L318 424.1L319.5 423.3L321 422.5L322.5 421.7L324 420.9L325.5 420.2L327 419.5L328.5 418.8L330 418.2L331.5 417.6L333 417L334.5 416.4L336 415.9L337.5 415.5L339 415L340.5 414.6L342 414.3L343.5 414L345 413.7L346.5 413.5L348 413.3L349.5 413.2L351 413.1L352.5 413L354 413L355.5 413L357 413.1L358.5 413.2L360 413.4L361.5 413.6L363 413.9L364.5 414.2L366 414.5L367.5 414.9L369 415.3L370.5 415.8L372 416.3L373.5 416.8L375 417.4L376.5 418L378 418.6L379.5 419.3L381 420L382.5 420.7L384 421.4L385.5 422.2L387 423L388.5 423.9L390 424.7L391.5 425.6L393 426.5L394.5 427.4L396 428.3L397.5 429.2L399 430.1L400.5 431.1L402 432L403.5 433L405 434L406.5 434.9L408 435.9L409.5 436.9L411 437.9L412.5 438.8L414 439.8L415.5 440.7L417 441.7L418.5 442.6L420 443.6L421.5 444.5L423 445.4L424.5 446.3L426 447.2L427.5 448L429 448.9L430.5 449.7L432 450.6L433.5 451.4L435 452.2L436.5 452.9L438 453.7L439.5 454.4L441 455.1L442.5 455.8L444 456.5L445.5 457.2L447 457.8L448.5 458.4L450 459L451.5 459.6L453 460.1L454.5 460.7L456 461.2L457.5 461.7L459 462.2L460.5 462.6L462 463.1L463.5 463.5L465 463.9L466.5 464.3L468 464.7L469.5 465.1L471 465.4L472.5 465.7L474 466L475.5 466.3L477 466.6L478.5 466.9L480 467.1L481.5 467.4L483 467.6L484.5 467.8L486 468L487.5 468.2L489 468.4L490.5 468.6L492 468.7L493.5 468.9L495 469L496.5 469.2L498 469.3L499.5 469.4L501 469.5L502.5 469.6L504 469.7L505.5 469.8L507 469.9L508.5 470L510 470.1L511.5 470.2L513 470.2L514.5 470.3L516 470.3L517.5 470.4L519 470.4L520.5 470.5L522 470.5L523.5 470.6L525 470.6L526.5 470.6L528 470.7L529.5 470.7L531 470.7L532.5 470.7L534 470.8L535.5 470.8L537 470.8L538.5 470.8L540 470.8L541.5 470.9L543 470.9L544.5 470.9L546 470.9L547.5 470.9L549 470.9L550.5 470.9L552 470.9L553.5 470.9L555 470.9L556.5 470.9L558 471L559.5 471L561 471L562.5 471L564 471L565.5 471L567 471L568.5 471L570 471L571.5 471L573 471L574.5 471L576 471L577.5 471L579 471L580.5 471L582 471L583.5 471L585 471L586.5 471L588 471L589.5 471L591 471L592.5 471L592.5 473L36 473Z" fill="#e6302a"/>
<path d="M36 470.7L37.5 470.7L39 470.7L40.5 470.7L42 470.7L43.5 470.7L45 470.6L46.5 470.6L48 470.6L49.5 470.6L51 470.6L52.5 470.6L54 470.6L55.5 470.6L57 470.6L58.5 470.6L60 470.6L61.5 470.6L63 470.6L64.5 470.6L66 470.6L67.5 470.6L69 470.6L70.5 470.6L72 470.6L73.5 470.6L75 470.6L76.5 470.6L78 470.5L79.5 470.5L81 470.5L82.5 470.5L84 470.5L85.5 470.5L87 470.5L88.5 470.5L90 470.5L91.5 470.5L93 470.5L94.5 470.5L96 470.5L97.5 470.5L99 470.5L100.5 470.5L102 470.4L103.5 470.4L105 470.4L106.5 470.4L108 470.4L109.5 470.4L111 470.4L112.5 470.4L114 470.4L115.5 470.4L117 470.3L118.5 470.3L120 470.3L121.5 470.3L123 470.3L124.5 470.3L126 470.3L127.5 470.3L129 470.2L130.5 470.2L132 470.2L133.5 470.2L135 470.2L136.5 470.2L138 470.1L139.5 470.1L141 470.1L142.5 470.1L144 470.1L145.5 470L147 470L148.5 470L150 470L151.5 469.9L153 469.9L154.5 469.9L156 469.8L157.5 469.8L159 469.8L160.5 469.7L162 469.7L163.5 469.6L165 469.6L166.5 469.6L168 469.5L169.5 469.5L171 469.4L172.5 469.3L174 469.3L175.5 469.2L177 469.2L178.5 469.1L180 469L181.5 469L183 468.9L184.5 468.8L186 468.7L187.5 468.6L189 468.5L190.5 468.4L192 468.3L193.5 468.2L195 468.1L196.5 468L198 467.9L199.5 467.8L201 467.6L202.5 467.5L204 467.4L205.5 467.2L207 467.1L208.5 466.9L210 466.8L211.5 466.6L213 466.4L214.5 466.3L216 466.1L217.5 465.9L219 465.7L220.5 465.5L222 465.3L223.5 465.1L225 464.9L226.5 464.7L228 464.4L229.5 464.2L231 464L232.5 463.7L234 463.5L235.5 463.2L237 463L238.5 462.7L240 462.4L241.5 462.2L243 461.9L244.5 461.6L246 461.3L247.5 461L249 460.7L250.5 460.4L252 460.1L253.5 459.8L255 459.5L256.5 459.2L258 458.8L259.5 458.5L261 458.2L262.5 457.9L264 457.6L265.5 457.2L267 456.9L268.5 456.6L270 456.3L271.5 455.9L273 455.6L274.5 455.3L276 455L277.5 454.7L279 454.4L280.5 454.1L282 453.8L283.5 453.5L285 453.2L286.5 453L288 452.7L289.5 452.4L291 452.2L292.5 451.9L294 451.7L295.5 451.5L297 451.3L298.5 451.1L300 450.9L301.5 450.8L303 450.6L304.5 450.5L306 450.4L307.5 450.3L309 450.2L310.5 450.1L312 450.1L313.5 450L315 450L316.5 450L318 450L319.5 450.1L321 450.1L322.5 450.2L324 450.3L325.5 450.4L327 450.6L328.5 450.7L330 450.9L331.5 451.1L333 451.3L334.5 451.6L336 451.8L337.5 452.1L339 452.4L340.5 452.7L342 453L343.5 453.3L345 453.7L346.5 454L348 454.4L349.5 454.8L351 455.1L352.5 455.5L354 455.9L355.5 456.3L357 456.7L358.5 457.1L360 457.5L361.5 457.9L363 458.3L364.5 458.7L366 459.2L367.5 459.6L369 460L370.5 460.4L372 460.8L373.5 461.2L375 461.5L376.5 461.9L378 462.3L379.5 462.7L381 463L382.5 463.4L384 463.7L385.5 464.1L387 464.4L388.5 464.7L390 465L391.5 465.3L393 465.6L394.5 465.9L396 466.2L397.5 466.4L399 466.7L400.5 466.9L402 467.1L403.5 467.4L405 467.6L406.5 467.8L408 468L409.5 468.2L411 468.3L412.5 468.5L414 468.7L415.5 468.8L417 469L418.5 469.1L420 469.2L421.5 469.4L423 469.5L424.5 469.6L426 469.7L427.5 469.8L429 469.9L430.5 470L432 470L433.5 470.1L435 470.2L436.5 470.2L438 470.3L439.5 470.4L441 470.4L442.5 470.5L444 470.5L445.5 470.5L447 470.6L448.5 470.6L450 470.7L451.5 470.7L453 470.7L454.5 470.7L456 470.8L457.5 470.8L459 470.8L460.5 470.8L462 470.8L463.5 470.9L465 470.9L466.5 470.9L468 470.9L469.5 470.9L471 470.9L472.5 470.9L474 470.9L475.5 470.9L477 470.9L478.5 471L480 471L481.5 471L483 471L484.5 471L486 471L487.5 471L489 471L490.5 471L492 471L493.5 471L495 471L496.5 471L498 471L499.5 471L501 471L502.5 471L504 471L505.5 471L507 471L508.5 471L510 471L511.5 471L513 471L514.5 471L516 471L517.5 471L519 471L520.5 471L522 471L523.5 471L525 471L526.5 471L528 471L529.5 471L531 471L532.5 471L534 471L535.5 471L537 471L538.5 471L540 471L541.5 471L543 471L544.5 471L546 471L547.5 471L549 471L550.5 471L552 471L553.5 471L555 471L556.5 471L558 471L559.5 471L561 471L562.5 471L564 471L565.5 471L567 471L568.5 471L570 471L571.5 471L573 471L574.5 471L576 471L577.5 471L579 471L580.5 471L582 471L583.5 471L585 471L586.5 471L588 471L589.5 471L591 471L592.5 471L592.5 473L36 473Z" fill="#3b2484"/>
<line x1="36" y1="471.5" x2="593" y2="471.5" stroke="#3b2484" stroke-width="5.5" stroke-linecap="round" />
<path d="M36 400C38 400.1 44.3 400.8 48 400.6C51.7 400.4 54.3 398.9 58 399C61.7 399.1 66 401.3 70 401.5C74 401.7 78 400.4 82 400C86 399.6 90.3 398.9 94 399C97.7 399.1 100.3 400.4 104 400.5C107.7 400.6 112 399.9 116 399.5C120 399.1 124.7 398.4 128 398C131.3 397.6 133 396.8 136 397C139 397.2 142.7 398.9 146 399.5C149.3 400.1 152.7 400.8 156 400.5C159.3 400.2 162.3 398.6 166 398C169.7 397.4 174 397.6 178 397C182 396.4 185.7 395.4 190 394.5C194.3 393.6 200.2 392.5 204 391.5C207.8 390.5 210.3 389.8 213 388.5C215.7 387.2 217.1 387.8 220 384C222.9 380.2 227.8 372.2 230.6 366C233.4 359.8 235 353.7 237 347C239 340.3 241.2 331.5 242.6 326C244 320.5 243.9 321 245.2 313.9C246.5 306.8 248.8 293.5 250.3 283.4C251.8 273.2 253.1 263.1 254.4 253C255.7 242.8 256.8 232.7 258 222.5C259.2 212.3 260.4 202.2 261.5 192C262.6 181.8 263.7 171.8 264.9 161.6C266.1 151.4 267.2 141.2 268.6 131C270 120.8 271.6 108.3 273 100.6C274.4 92.8 275.7 88 277 84.5C278.3 81 279.5 79.3 280.8 79.3C282.1 79.3 283.2 81 284.6 84.5C286 88 287.3 92.8 288.9 100.6C290.5 108.3 292.3 120.8 294 131C295.7 141.2 297.5 151.4 299 161.6C300.5 171.8 301.8 181.8 303.1 192C304.4 202.2 305.6 212.3 306.8 222.5C308 232.7 308.8 243.5 310.2 253C311.6 262.5 313.1 272.3 315.3 279.4C317.5 286.5 320 291 323.4 295.6C326.8 300.2 331.2 303.6 335.6 306.8C340 310 346.2 313.1 349.8 315C353.4 316.9 355 317.1 357 318.5C359 319.9 360 322.1 362 323.5C364 324.9 366.7 325.2 369 327C371.3 328.8 373.8 332.7 376 334.5C378.2 336.3 380 336.3 382 338C384 339.7 385.7 342.6 388 344.5C390.3 346.4 393.5 347.7 396 349.5C398.5 351.3 400.5 353.9 403 355.5C405.5 357.1 408.3 357.3 411 359C413.7 360.7 416.3 364 419 365.5C421.7 367 424.2 366.7 427 368C429.8 369.3 433 372.1 436 373.5C439 374.9 442.2 375.2 445 376.5C447.8 377.8 450.2 379.9 453 381C455.8 382.1 459.2 381.9 462 383C464.8 384.1 467 386.4 470 387.5C473 388.6 477 388.7 480 389.5C483 390.3 485.2 392 488 392.5C490.8 393 494.2 392.1 497 392.5C499.8 392.9 502.3 394.7 505 395C507.7 395.3 510.3 394 513 394.5C515.7 395 518.3 397.2 521 398C523.7 398.8 526.7 398.5 529 399C531.3 399.5 532.8 400.8 535 401C537.2 401.2 539.2 400.8 542 400.5C544.8 400.2 548.7 399.5 552 399.5C555.3 399.5 558.7 400.5 562 400.5C565.3 400.5 568.7 399.8 572 399.5C575.3 399.2 578.8 399.2 582 399C585.2 398.8 589.5 398.6 591 398.5" fill="none" stroke="#0c0c0c" stroke-width="5.6" stroke-linejoin="round" stroke-linecap="round"/>
<line x1="36.5" y1="486.6" x2="592.2" y2="486.6" stroke="#0c0c0c" stroke-width="6.9" stroke-linecap="round" />
<line x1="54.7" y1="487" x2="54.7" y2="491.3" stroke="#0c0c0c" stroke-width="6.8" stroke-linecap="round" />
<line x1="73.2" y1="487" x2="73.2" y2="491.3" stroke="#0c0c0c" stroke-width="6.8" stroke-linecap="round" />
<line x1="91.7" y1="487" x2="91.7" y2="491.3" stroke="#0c0c0c" stroke-width="6.8" stroke-linecap="round" />
<line x1="110.1" y1="487" x2="110.1" y2="491.3" stroke="#0c0c0c" stroke-width="6.8" stroke-linecap="round" />
<line x1="128.6" y1="487" x2="128.6" y2="494.4" stroke="#0c0c0c" stroke-width="6.8" stroke-linecap="round" />
<line x1="147.1" y1="487" x2="147.1" y2="491.3" stroke="#0c0c0c" stroke-width="6.8" stroke-linecap="round" />
<line x1="165.5" y1="487" x2="165.5" y2="491.3" stroke="#0c0c0c" stroke-width="6.8" stroke-linecap="round" />
<line x1="184" y1="487" x2="184" y2="491.3" stroke="#0c0c0c" stroke-width="6.8" stroke-linecap="round" />
<line x1="202.5" y1="487" x2="202.5" y2="491.3" stroke="#0c0c0c" stroke-width="6.8" stroke-linecap="round" />
<line x1="220.9" y1="487" x2="220.9" y2="494.4" stroke="#0c0c0c" stroke-width="6.8" stroke-linecap="round" />
<line x1="239.4" y1="487" x2="239.4" y2="491.3" stroke="#0c0c0c" stroke-width="6.8" stroke-linecap="round" />
<line x1="257.9" y1="487" x2="257.9" y2="491.3" stroke="#0c0c0c" stroke-width="6.8" stroke-linecap="round" />
<line x1="276.3" y1="487" x2="276.3" y2="491.3" stroke="#0c0c0c" stroke-width="6.8" stroke-linecap="round" />
<line x1="294.8" y1="487" x2="294.8" y2="491.3" stroke="#0c0c0c" stroke-width="6.8" stroke-linecap="round" />
<line x1="313.2" y1="487" x2="313.2" y2="494.4" stroke="#0c0c0c" stroke-width="6.8" stroke-linecap="round" />
<line x1="331.7" y1="487" x2="331.7" y2="491.3" stroke="#0c0c0c" stroke-width="6.8" stroke-linecap="round" />
<line x1="350.2" y1="487" x2="350.2" y2="491.3" stroke="#0c0c0c" stroke-width="6.8" stroke-linecap="round" />
<line x1="368.6" y1="487" x2="368.6" y2="491.3" stroke="#0c0c0c" stroke-width="6.8" stroke-linecap="round" />
<line x1="387.1" y1="487" x2="387.1" y2="491.3" stroke="#0c0c0c" stroke-width="6.8" stroke-linecap="round" />
<line x1="405.6" y1="487" x2="405.6" y2="494.4" stroke="#0c0c0c" stroke-width="6.8" stroke-linecap="round" />
<line x1="424" y1="487" x2="424" y2="491.3" stroke="#0c0c0c" stroke-width="6.8" stroke-linecap="round" />
<line x1="442.5" y1="487" x2="442.5" y2="491.3" stroke="#0c0c0c" stroke-width="6.8" stroke-linecap="round" />
<line x1="461" y1="487" x2="461" y2="491.3" stroke="#0c0c0c" stroke-width="6.8" stroke-linecap="round" />
<line x1="479.4" y1="487" x2="479.4" y2="491.3" stroke="#0c0c0c" stroke-width="6.8" stroke-linecap="round" />
<line x1="497.9" y1="487" x2="497.9" y2="494.4" stroke="#0c0c0c" stroke-width="6.8" stroke-linecap="round" />
<line x1="516.4" y1="487" x2="516.4" y2="491.3" stroke="#0c0c0c" stroke-width="6.8" stroke-linecap="round" />
<line x1="534.8" y1="487" x2="534.8" y2="491.3" stroke="#0c0c0c" stroke-width="6.8" stroke-linecap="round" />
<line x1="553.3" y1="487" x2="553.3" y2="491.3" stroke="#0c0c0c" stroke-width="6.8" stroke-linecap="round" />
<line x1="571.8" y1="487" x2="571.8" y2="491.3" stroke="#0c0c0c" stroke-width="6.8" stroke-linecap="round" />
<text x="130.9" y="533" font-family='"Liberation Serif","Noto Serif CJK SC",serif' font-size="48" font-weight="bold" font-style="normal" fill="#111" text-anchor="middle" textLength="47.5" lengthAdjust="spacingAndGlyphs" >70</text>
<text x="223.2" y="533" font-family='"Liberation Serif","Noto Serif CJK SC",serif' font-size="48" font-weight="bold" font-style="normal" fill="#111" text-anchor="middle" textLength="47.5" lengthAdjust="spacingAndGlyphs" >60</text>
<text x="315.6" y="533" font-family='"Liberation Serif","Noto Serif CJK SC",serif' font-size="48" font-weight="bold" font-style="normal" fill="#111" text-anchor="middle" textLength="47.5" lengthAdjust="spacingAndGlyphs" >50</text>
<text x="407.9" y="533" font-family='"Liberation Serif","Noto Serif CJK SC",serif' font-size="48" font-weight="bold" font-style="normal" fill="#111" text-anchor="middle" textLength="47.5" lengthAdjust="spacingAndGlyphs" >40</text>
<text x="500.2" y="533" font-family='"Liberation Serif","Noto Serif CJK SC",serif' font-size="48" font-weight="bold" font-style="normal" fill="#111" text-anchor="middle" textLength="47.5" lengthAdjust="spacingAndGlyphs" >30</text>
<text x="547.3" y="529.8" font-family='"Liberation Serif","Noto Serif CJK SC",serif' font-size="44" font-weight="bold" font-style="normal" fill="#111" text-anchor="start" >/</text>
<text x="561.9" y="529.8" font-family='"Liberation Serif","Noto Serif CJK SC",serif' font-size="46" font-weight="bold" font-style="normal" fill="#111" text-anchor="start" textLength="91.6" lengthAdjust="spacingAndGlyphs" >ppm</text>
<path d="M626 1172.7L627 1172.7L628 1172.7L629 1172.7L630 1172.7L631 1172.7L632 1172.7L633 1172.7L634 1172.7L635 1172.7L636 1172.6L637 1172.6L638 1172.6L639 1172.6L640 1172.6L641 1172.6L642 1172.6L643 1172.6L644 1172.6L645 1172.6L646 1172.6L647 1172.6L648 1172.6L649 1172.6L650 1172.6L651 1172.6L652 1172.6L653 1172.6L654 1172.5L655 1172.5L656 1172.5L657 1172.5L658 1172.5L659 1172.5L660 1172.5L661 1172.5L662 1172.5L663 1172.5L664 1172.5L665 1172.5L666 1172.5L667 1172.5L668 1172.5L669 1172.4L670 1172.4L671 1172.4L672 1172.4L673 1172.4L674 1172.4L675 1172.4L676 1172.4L677 1172.4L678 1172.4L679 1172.4L680 1172.4L681 1172.4L682 1172.3L683 1172.3L684 1172.3L685 1172.3L686 1172.3L687 1172.3L688 1172.3L689 1172.3L690 1172.3L691 1172.3L692 1172.2L693 1172.2L694 1172.2L695 1172.2L696 1172.2L697 1172.2L698 1172.2L699 1172.2L700 1172.2L701 1172.1L702 1172.1L703 1172.1L704 1172.1L705 1172.1L706 1172.1L707 1172.1L708 1172L709 1172L710 1172L711 1172L712 1172L713 1172L714 1172L715 1171.9L716 1171.9L717 1171.9L718 1171.9L719 1171.9L720 1171.9L721 1171.8L722 1171.8L723 1171.8L724 1171.8L725 1171.8L726 1171.7L727 1171.7L728 1171.7L729 1171.7L730 1171.7L731 1171.6L732 1171.6L733 1171.6L734 1171.6L735 1171.5L736 1171.5L737 1171.5L738 1171.5L739 1171.4L740 1171.4L741 1171.4L742 1171.4L743 1171.3L744 1171.3L745 1171.3L746 1171.2L747 1171.2L748 1171.2L749 1171.1L750 1171.1L751 1171.1L752 1171L753 1171L754 1171L755 1170.9L756 1170.9L757 1170.8L758 1170.8L759 1170.8L760 1170.7L761 1170.7L762 1170.6L763 1170.6L764 1170.5L765 1170.5L766 1170.4L767 1170.4L768 1170.3L769 1170.2L770 1170.2L771 1170.1L772 1170L773 1169.9L774 1169.8L775 1169.7L776 1169.5L777 1169.3L778 1169L779 1168.7L780 1168.3L781 1167.8L782 1167.1L783 1166.3L784 1165.4L785 1164.2L786 1162.7L787 1161L788 1159L789 1156.6L790 1153.9L791 1150.8L792 1147.4L793 1143.7L794 1139.7L795 1135.5L796 1131.1L797 1126.7L798 1122.2L799 1117.8L800 1113.7L801 1109.9L802 1106.4L803 1103.4L804 1100.9L805 1099L806 1097.7L807 1097L808 1096.8L809 1097L810 1097.8L811 1098.8L812 1100.2L813 1101.7L814 1103.4L815 1105.1L816 1106.8L817 1108.5L818 1110L819 1111.4L820 1112.6L821 1113.7L822 1114.7L823 1115.5L824 1116.2L825 1116.8L826 1117.3L827 1117.8L828 1118.3L829 1118.8L830 1119.2L831 1119.7L832 1120.2L833 1120.8L834 1121.2L835 1121.7L836 1122L837 1122.2L838 1122.1L839 1121.7L840 1121L841 1119.8L842 1118L843 1115.7L844 1112.7L845 1108.9L846 1104.4L847 1098.9L848 1092.6L849 1085.4L850 1077.2L851 1068L852 1057.9L853 1046.9L854 1034.9L855 1022.1L856 1008.6L857 994.3L858 979.6L859 964.4L860 949.1L861 933.8L862 918.8L863 904.4L864 891.1L865 879.1L866 868.9L867 860.8L868 855.2L869 852.3L870 852.1L871 854.4L872 859L873 865.9L874 874.7L875 885.3L876 897.3L877 910.4L878 924.4L879 938.9L880 953.6L881 968.3L882 982.6L883 996.3L884 1009.2L885 1021.1L886 1032L887 1041.7L888 1050.1L889 1057.3L890 1063.2L891 1068L892 1071.7L893 1074.5L894 1076.4L895 1077.5L896 1078.1L897 1078.2L898 1077.9L899 1077.4L900 1076.7L901 1075.9L902 1075.1L903 1074.2L904 1073.3L905 1072.3L906 1071.2L907 1070L908 1068.6L909 1067L910 1065.1L911 1062.8L912 1060.2L913 1057.1L914 1053.7L915 1049.8L916 1045.6L917 1041L918 1036L919 1030.8L920 1025.4L921 1019.9L922 1014.4L923 1008.9L924 1003.6L925 998.6L926 993.9L927 989.7L928 986L929 982.9L930 980.5L931 978.8L932 977.9L933 977.8L934 978.5L935 979.9L936 981.9L937 984.7L938 988L939 992L940 996.6L941 1001.6L942 1007.1L943 1013.1L944 1019.3L945 1025.8L946 1032.6L947 1039.5L948 1046.4L949 1053.5L950 1060.5L951 1067.4L952 1074.3L953 1081L954 1087.6L955 1093.9L956 1100L957 1105.8L958 1111.3L959 1116.6L960 1121.5L961 1126.2L962 1130.5L963 1134.6L964 1138.3L965 1141.8L966 1144.9L967 1147.8L968 1150.4L969 1152.8L970 1155L971 1156.9L972 1158.6L973 1160.2L974 1161.6L975 1162.8L976 1163.9L977 1164.8L978 1165.7L979 1166.4L980 1167L981 1167.6L982 1168.1L983 1168.5L984 1168.9L985 1169.2L986 1169.5L987 1169.8L988 1170L989 1170.2L990 1170.3L991 1170.5L992 1170.6L993 1170.7L994 1170.8L995 1170.9L996 1171L997 1171.1L998 1171.1L999 1171.2L1000 1171.3L1001 1171.3L1002 1171.4L1003 1171.4L1004 1171.5L1005 1171.5L1006 1171.5L1007 1171.6L1008 1171.6L1009 1171.7L1010 1171.7L1011 1171.7L1012 1171.8L1013 1171.8L1014 1171.8L1015 1171.8L1016 1171.9L1017 1171.9L1018 1171.9L1019 1172L1020 1172L1021 1172L1022 1172L1023 1172L1024 1172.1L1025 1172.1L1026 1172.1L1027 1172.1L1028 1172.1L1029 1172.2L1030 1172.2L1031 1172.2L1032 1172.2L1033 1172.2L1034 1172.3L1035 1172.3L1036 1172.3L1037 1172.3L1038 1172.3L1039 1172.3L1040 1172.3L1041 1172.4L1042 1172.4L1043 1172.4L1044 1172.4L1045 1172.4L1046 1172.4L1047 1172.4L1048 1172.4L1049 1172.5L1050 1172.5L1051 1172.5L1052 1172.5L1053 1172.5L1054 1172.5L1055 1172.5L1056 1172.5L1057 1172.5L1058 1172.5L1059 1172.6L1060 1172.6L1061 1172.6L1062 1172.6L1063 1172.6L1064 1172.6L1065 1172.6L1066 1172.6L1067 1172.6L1068 1172.6L1069 1172.6L1070 1172.6L1071 1172.7L1072 1172.7L1073 1172.7L1074 1172.7L1075 1172.7L1076 1172.7L1077 1172.7L1078 1172.7L1079 1172.7L1080 1172.7L1081 1172.7L1082 1172.7L1083 1172.7L1084 1172.7L1085 1172.7L1086 1172.7L1087 1172.7L1088 1172.8L1089 1172.8L1090 1172.8L1091 1172.8L1092 1172.8L1093 1172.8L1094 1172.8L1095 1172.8L1096 1172.8L1097 1172.8L1098 1172.8L1099 1172.8L1100 1172.8L1101 1172.8L1102 1172.8L1103 1172.8L1104 1172.8L1105 1172.8L1106 1172.8L1107 1172.8L1108 1172.8L1109 1172.8L1110 1172.8L1111 1172.9L1112 1172.9L1113 1172.9L1114 1172.9L1115 1172.9L1116 1172.9L1117 1172.9L1118 1172.9L1119 1172.9L1120 1172.9L1121 1172.9L1122 1172.9L1123 1172.9L1124 1172.9L1125 1172.9L1126 1172.9L1127 1172.9L1128 1172.9L1129 1172.9L1130 1172.9L1131 1172.9L1132 1172.9L1133 1172.9L1134 1172.9L1135 1172.9L1136 1172.9L1137 1172.9L1138 1172.9L1139 1172.9L1140 1172.9L1141 1172.9L1142 1172.9L1143 1172.9L1144 1172.9L1145 1172.9L1146 1172.9L1147 1173L1148 1173L1149 1173L1150 1173L1151 1173L1152 1173L1153 1173L1154 1173L1155 1173L1156 1173L1157 1173L1158 1173L1159 1173L1160 1173L1161 1173L1162 1173L1163 1173L1164 1173L1165 1173L1166 1173L1167 1173L1168 1173L1169 1173L1170 1173L1171 1173L1172 1173L1173 1173L1174 1173L1175 1173L1176 1173L1177 1173L1178 1173L1179 1173L1180 1173L1181 1173L1182 1173L1183 1173L1184 1173L1185 1173" fill="none" stroke="#7d7f82" stroke-width="4.4" stroke-linejoin="round" stroke-linecap="round"/>
<path d="M626 1174L627 1174L628 1174L629 1174L630 1174L631 1174L632 1174L633 1174L634 1174L635 1174L636 1174L637 1174L638 1174L639 1174L640 1174L641 1174L642 1174L643 1174L644 1174L645 1174L646 1174L647 1174L648 1174L649 1174L650 1174L651 1174L652 1174L653 1174L654 1174L655 1174L656 1174L657 1174L658 1174L659 1174L660 1174L661 1174L662 1174L663 1174L664 1174L665 1174L666 1174L667 1174L668 1174L669 1174L670 1174L671 1174L672 1174L673 1174L674 1174L675 1174L676 1174L677 1174L678 1174L679 1174L680 1174L681 1174L682 1174L683 1174L684 1174L685 1174L686 1174L687 1174L688 1174L689 1174L690 1174L691 1174L692 1174L693 1174L694 1174L695 1174L696 1174L697 1174L698 1174L699 1174L700 1174L701 1174L702 1174L703 1174L704 1174L705 1174L706 1174L707 1174L708 1174L709 1174L710 1174L711 1174L712 1174L713 1174L714 1174L715 1174L716 1174L717 1174L718 1174L719 1174L720 1174L721 1174L722 1174L723 1174L724 1174L725 1174L726 1174L727 1174L728 1174L729 1174L730 1174L731 1174L732 1174L733 1174L734 1174L735 1174L736 1174L737 1174L738 1174L739 1174L740 1174L741 1174L742 1174L743 1174L744 1174L745 1174L746 1174L747 1174L748 1174L749 1174L750 1174L751 1174L752 1174L753 1174L754 1174L755 1174L756 1174L757 1174L758 1174L759 1174L760 1174L761 1174L762 1174L763 1174L764 1174L765 1174L766 1174L767 1174L768 1174L769 1174L770 1174L771 1174L772 1173.9L773 1173.9L774 1173.9L775 1173.8L776 1173.7L777 1173.6L778 1173.4L779 1173.2L780 1172.9L781 1172.5L782 1171.9L783 1171.3L784 1170.4L785 1169.4L786 1168.1L787 1166.6L788 1164.8L789 1162.7L790 1160.2L791 1157.5L792 1154.5L793 1151.3L794 1147.8L795 1144.2L796 1140.5L797 1136.8L798 1133.2L799 1129.9L800 1126.8L801 1124.2L802 1122.1L803 1120.6L804 1119.7L805 1119.5L806 1120L807 1121.1L808 1122.9L809 1125.2L810 1128L811 1131.2L812 1134.7L813 1138.3L814 1142L815 1145.7L816 1149.2L817 1152.6L818 1155.8L819 1158.7L820 1161.2L821 1163.5L822 1165.5L823 1167.2L824 1168.6L825 1169.8L826 1170.8L827 1171.5L828 1172.2L829 1172.6L830 1173L831 1173.3L832 1173.5L833 1173.6L834 1173.7L835 1173.8L836 1173.9L837 1173.9L838 1173.9L839 1174L840 1174L841 1174L842 1174L843 1174L844 1174L845 1174L846 1174L847 1174L848 1174L849 1174L850 1174L851 1174L852 1174L853 1174L854 1174L855 1174L856 1174L857 1174L858 1174L859 1174L860 1174L861 1174L862 1174L863 1174L864 1174L865 1174L866 1174L867 1174L868 1174L869 1174L870 1174L871 1174L872 1174L873 1174L874 1174L875 1174L876 1174L877 1174L878 1174L879 1174L880 1174L881 1174L882 1174L883 1174L884 1174L885 1174L886 1174L887 1174L888 1174L889 1174L890 1174L891 1174L892 1174L893 1174L894 1174L895 1174L896 1174L897 1174L898 1174L899 1174L900 1174L901 1174L902 1174L903 1174L904 1174L905 1174L906 1174L907 1174L908 1174L909 1174L910 1174L911 1174L912 1174L913 1174L914 1174L915 1174L916 1174L917 1174L918 1174L919 1174L920 1174L921 1174L922 1174L923 1174L924 1174L925 1174L926 1174L927 1174L928 1174L929 1174L930 1174L931 1174L932 1174L933 1174L934 1174L935 1174L936 1174L937 1174L938 1174L939 1174L940 1174L941 1174L942 1174L943 1174L944 1174L945 1174L946 1174L947 1174L948 1174L949 1174L950 1174L951 1174L952 1174L953 1174L954 1174L955 1174L956 1174L957 1174L958 1174L959 1174L960 1174L961 1174L962 1174L963 1174L964 1174L965 1174L966 1174L967 1174L968 1174L969 1174L970 1174L971 1174L972 1174L973 1174L974 1174L975 1174L976 1174L977 1174L978 1174L979 1174L980 1174L981 1174L982 1174L983 1174L984 1174L985 1174L986 1174L987 1174L988 1174L989 1174L990 1174L991 1174L992 1174L993 1174L994 1174L995 1174L996 1174L997 1174L998 1174L999 1174L1000 1174L1001 1174L1002 1174L1003 1174L1004 1174L1005 1174L1006 1174L1007 1174L1008 1174L1009 1174L1010 1174L1011 1174L1012 1174L1013 1174L1014 1174L1015 1174L1016 1174L1017 1174L1018 1174L1019 1174L1020 1174L1021 1174L1022 1174L1023 1174L1024 1174L1025 1174L1026 1174L1027 1174L1028 1174L1029 1174L1030 1174L1031 1174L1032 1174L1033 1174L1034 1174L1035 1174L1036 1174L1037 1174L1038 1174L1039 1174L1040 1174L1041 1174L1042 1174L1043 1174L1044 1174L1045 1174L1046 1174L1047 1174L1048 1174L1049 1174L1050 1174L1051 1174L1052 1174L1053 1174L1054 1174L1055 1174L1056 1174L1057 1174L1058 1174L1059 1174L1060 1174L1061 1174L1062 1174L1063 1174L1064 1174L1065 1174L1066 1174L1067 1174L1068 1174L1069 1174L1070 1174L1071 1174L1072 1174L1073 1174L1074 1174L1075 1174L1076 1174L1077 1174L1078 1174L1079 1174L1080 1174L1081 1174L1082 1174L1083 1174L1084 1174L1085 1174L1086 1174L1087 1174L1088 1174L1089 1174L1090 1174L1091 1174L1092 1174L1093 1174L1094 1174L1095 1174L1096 1174L1097 1174L1098 1174L1099 1174L1100 1174L1101 1174L1102 1174L1103 1174L1104 1174L1105 1174L1106 1174L1107 1174L1108 1174L1109 1174L1110 1174L1111 1174L1112 1174L1113 1174L1114 1174L1115 1174L1116 1174L1117 1174L1118 1174L1119 1174L1120 1174L1121 1174L1122 1174L1123 1174L1124 1174L1125 1174L1126 1174L1127 1174L1128 1174L1129 1174L1130 1174L1131 1174L1132 1174L1133 1174L1134 1174L1135 1174L1136 1174L1137 1174L1138 1174L1139 1174L1140 1174L1141 1174L1142 1174L1143 1174L1144 1174L1145 1174L1146 1174L1147 1174L1148 1174L1149 1174L1150 1174L1151 1174L1152 1174L1153 1174L1154 1174L1155 1174L1156 1174L1157 1174L1158 1174L1159 1174L1160 1174L1161 1174L1162 1174L1163 1174L1164 1174L1165 1174L1166 1174L1167 1174L1168 1174L1169 1174L1170 1174L1171 1174L1172 1174L1173 1174L1174 1174L1175 1174L1176 1174L1177 1174L1178 1174L1179 1174L1180 1174L1181 1174L1182 1174L1183 1174L1184 1174L1185 1174L1185 1176L626 1176Z" fill="#f0803c"/>
<path d="M626 1173.5L627 1173.5L628 1173.5L629 1173.5L630 1173.5L631 1173.5L632 1173.5L633 1173.5L634 1173.5L635 1173.5L636 1173.4L637 1173.4L638 1173.4L639 1173.4L640 1173.4L641 1173.4L642 1173.4L643 1173.4L644 1173.4L645 1173.4L646 1173.4L647 1173.4L648 1173.4L649 1173.4L650 1173.4L651 1173.4L652 1173.4L653 1173.4L654 1173.3L655 1173.3L656 1173.3L657 1173.3L658 1173.3L659 1173.3L660 1173.3L661 1173.3L662 1173.3L663 1173.3L664 1173.3L665 1173.3L666 1173.3L667 1173.3L668 1173.3L669 1173.2L670 1173.2L671 1173.2L672 1173.2L673 1173.2L674 1173.2L675 1173.2L676 1173.2L677 1173.2L678 1173.2L679 1173.2L680 1173.2L681 1173.2L682 1173.1L683 1173.1L684 1173.1L685 1173.1L686 1173.1L687 1173.1L688 1173.1L689 1173.1L690 1173.1L691 1173.1L692 1173L693 1173L694 1173L695 1173L696 1173L697 1173L698 1173L699 1173L700 1173L701 1172.9L702 1172.9L703 1172.9L704 1172.9L705 1172.9L706 1172.9L707 1172.9L708 1172.8L709 1172.8L710 1172.8L711 1172.8L712 1172.8L713 1172.8L714 1172.8L715 1172.7L716 1172.7L717 1172.7L718 1172.7L719 1172.7L720 1172.7L721 1172.6L722 1172.6L723 1172.6L724 1172.6L725 1172.6L726 1172.5L727 1172.5L728 1172.5L729 1172.5L730 1172.5L731 1172.4L732 1172.4L733 1172.4L734 1172.4L735 1172.3L736 1172.3L737 1172.3L738 1172.3L739 1172.2L740 1172.2L741 1172.2L742 1172.2L743 1172.1L744 1172.1L745 1172.1L746 1172L747 1172L748 1172L749 1171.9L750 1171.9L751 1171.9L752 1171.8L753 1171.8L754 1171.8L755 1171.7L756 1171.7L757 1171.6L758 1171.6L759 1171.6L760 1171.5L761 1171.5L762 1171.4L763 1171.4L764 1171.3L765 1171.3L766 1171.2L767 1171.2L768 1171.1L769 1171.1L770 1171L771 1170.9L772 1170.9L773 1170.8L774 1170.7L775 1170.7L776 1170.6L777 1170.5L778 1170.5L779 1170.4L780 1170.3L781 1170.2L782 1170.1L783 1170L784 1170L785 1169.9L786 1169.8L787 1169.7L788 1169.6L789 1169.5L790 1169.3L791 1169.2L792 1169.1L793 1169L794 1168.8L795 1168.7L796 1168.6L797 1168.4L798 1168.3L799 1168.1L800 1168L801 1167.8L802 1167.6L803 1167.4L804 1167.2L805 1167L806 1166.8L807 1166.6L808 1166.4L809 1166.1L810 1165.9L811 1165.6L812 1165.3L813 1165L814 1164.7L815 1164.4L816 1164.1L817 1163.7L818 1163.3L819 1162.9L820 1162.5L821 1162L822 1161.5L823 1161L824 1160.5L825 1159.9L826 1159.3L827 1158.6L828 1157.8L829 1157L830 1156.1L831 1155.1L832 1154.1L833 1152.8L834 1151.5L835 1150L836 1148.2L837 1146.3L838 1144.1L839 1141.6L840 1138.7L841 1135.5L842 1131.9L843 1127.7L844 1123.1L845 1117.8L846 1111.9L847 1105.3L848 1097.9L849 1089.8L850 1080.9L851 1071.1L852 1060.5L853 1049.1L854 1036.8L855 1023.8L856 1010L857 995.6L858 980.7L859 965.5L860 950.1L861 934.7L862 919.7L863 905.3L864 892L865 880L866 869.8L867 861.8L868 856.2L869 853.4L870 853.3L871 855.8L872 860.6L873 867.7L874 876.9L875 888L876 900.6L877 914.5L878 929.4L879 945L880 961.1L881 977.4L882 993.6L883 1009.6L884 1025.1L885 1040L886 1054.1L887 1067.4L888 1079.7L889 1091.1L890 1101.5L891 1110.9L892 1119.4L893 1126.9L894 1133.5L895 1139.3L896 1144.3L897 1148.6L898 1152.3L899 1155.5L900 1158.2L901 1160.4L902 1162.3L903 1163.8L904 1165.1L905 1166.2L906 1167.1L907 1167.8L908 1168.4L909 1168.9L910 1169.3L911 1169.7L912 1170L913 1170.2L914 1170.4L915 1170.6L916 1170.8L917 1170.9L918 1171.1L919 1171.2L920 1171.3L921 1171.4L922 1171.5L923 1171.6L924 1171.7L925 1171.8L926 1171.8L927 1171.9L928 1172L929 1172L930 1172.1L931 1172.2L932 1172.2L933 1172.3L934 1172.3L935 1172.4L936 1172.4L937 1172.5L938 1172.5L939 1172.5L940 1172.6L941 1172.6L942 1172.7L943 1172.7L944 1172.7L945 1172.8L946 1172.8L947 1172.8L948 1172.9L949 1172.9L950 1172.9L951 1172.9L952 1173L953 1173L954 1173L955 1173L956 1173.1L957 1173.1L958 1173.1L959 1173.1L960 1173.1L961 1173.1L962 1173.2L963 1173.2L964 1173.2L965 1173.2L966 1173.2L967 1173.2L968 1173.3L969 1173.3L970 1173.3L971 1173.3L972 1173.3L973 1173.3L974 1173.3L975 1173.4L976 1173.4L977 1173.4L978 1173.4L979 1173.4L980 1173.4L981 1173.4L982 1173.4L983 1173.4L984 1173.5L985 1173.5L986 1173.5L987 1173.5L988 1173.5L989 1173.5L990 1173.5L991 1173.5L992 1173.5L993 1173.5L994 1173.5L995 1173.5L996 1173.6L997 1173.6L998 1173.6L999 1173.6L1000 1173.6L1001 1173.6L1002 1173.6L1003 1173.6L1004 1173.6L1005 1173.6L1006 1173.6L1007 1173.6L1008 1173.6L1009 1173.6L1010 1173.6L1011 1173.6L1012 1173.6L1013 1173.6L1014 1173.7L1015 1173.7L1016 1173.7L1017 1173.7L1018 1173.7L1019 1173.7L1020 1173.7L1021 1173.7L1022 1173.7L1023 1173.7L1024 1173.7L1025 1173.7L1026 1173.7L1027 1173.7L1028 1173.7L1029 1173.7L1030 1173.7L1031 1173.7L1032 1173.7L1033 1173.7L1034 1173.7L1035 1173.7L1036 1173.7L1037 1173.7L1038 1173.7L1039 1173.7L1040 1173.8L1041 1173.8L1042 1173.8L1043 1173.8L1044 1173.8L1045 1173.8L1046 1173.8L1047 1173.8L1048 1173.8L1049 1173.8L1050 1173.8L1051 1173.8L1052 1173.8L1053 1173.8L1054 1173.8L1055 1173.8L1056 1173.8L1057 1173.8L1058 1173.8L1059 1173.8L1060 1173.8L1061 1173.8L1062 1173.8L1063 1173.8L1064 1173.8L1065 1173.8L1066 1173.8L1067 1173.8L1068 1173.8L1069 1173.8L1070 1173.8L1071 1173.8L1072 1173.8L1073 1173.8L1074 1173.8L1075 1173.8L1076 1173.8L1077 1173.8L1078 1173.8L1079 1173.8L1080 1173.8L1081 1173.8L1082 1173.8L1083 1173.8L1084 1173.8L1085 1173.8L1086 1173.8L1087 1173.8L1088 1173.8L1089 1173.8L1090 1173.9L1091 1173.9L1092 1173.9L1093 1173.9L1094 1173.9L1095 1173.9L1096 1173.9L1097 1173.9L1098 1173.9L1099 1173.9L1100 1173.9L1101 1173.9L1102 1173.9L1103 1173.9L1104 1173.9L1105 1173.9L1106 1173.9L1107 1173.9L1108 1173.9L1109 1173.9L1110 1173.9L1111 1173.9L1112 1173.9L1113 1173.9L1114 1173.9L1115 1173.9L1116 1173.9L1117 1173.9L1118 1173.9L1119 1173.9L1120 1173.9L1121 1173.9L1122 1173.9L1123 1173.9L1124 1173.9L1125 1173.9L1126 1173.9L1127 1173.9L1128 1173.9L1129 1173.9L1130 1173.9L1131 1173.9L1132 1173.9L1133 1173.9L1134 1173.9L1135 1173.9L1136 1173.9L1137 1173.9L1138 1173.9L1139 1173.9L1140 1173.9L1141 1173.9L1142 1173.9L1143 1173.9L1144 1173.9L1145 1173.9L1146 1173.9L1147 1173.9L1148 1173.9L1149 1173.9L1150 1173.9L1151 1173.9L1152 1173.9L1153 1173.9L1154 1173.9L1155 1173.9L1156 1173.9L1157 1173.9L1158 1173.9L1159 1173.9L1160 1173.9L1161 1173.9L1162 1173.9L1163 1173.9L1164 1173.9L1165 1173.9L1166 1173.9L1167 1173.9L1168 1173.9L1169 1173.9L1170 1173.9L1171 1173.9L1172 1173.9L1173 1173.9L1174 1173.9L1175 1173.9L1176 1173.9L1177 1173.9L1178 1173.9L1179 1173.9L1180 1173.9L1181 1173.9L1182 1173.9L1183 1173.9L1184 1173.9L1185 1173.9L1185 1176L626 1176Z" fill="#009d4f"/>
<path d="M626 1174L627 1174L628 1174L629 1174L630 1174L631 1174L632 1174L633 1174L634 1174L635 1174L636 1174L637 1174L638 1174L639 1174L640 1174L641 1174L642 1174L643 1174L644 1174L645 1174L646 1174L647 1174L648 1174L649 1174L650 1174L651 1174L652 1174L653 1174L654 1174L655 1174L656 1174L657 1174L658 1174L659 1174L660 1174L661 1174L662 1174L663 1174L664 1174L665 1174L666 1174L667 1174L668 1174L669 1174L670 1174L671 1174L672 1174L673 1174L674 1174L675 1174L676 1174L677 1174L678 1174L679 1174L680 1174L681 1174L682 1174L683 1174L684 1174L685 1174L686 1174L687 1174L688 1174L689 1174L690 1174L691 1174L692 1174L693 1174L694 1174L695 1174L696 1174L697 1174L698 1174L699 1174L700 1174L701 1174L702 1174L703 1174L704 1174L705 1174L706 1174L707 1174L708 1174L709 1174L710 1174L711 1174L712 1174L713 1174L714 1174L715 1174L716 1174L717 1174L718 1174L719 1174L720 1174L721 1174L722 1174L723 1174L724 1174L725 1174L726 1174L727 1174L728 1174L729 1174L730 1174L731 1174L732 1174L733 1174L734 1174L735 1174L736 1174L737 1174L738 1174L739 1174L740 1174L741 1174L742 1174L743 1174L744 1174L745 1174L746 1174L747 1174L748 1174L749 1174L750 1174L751 1174L752 1174L753 1174L754 1174L755 1174L756 1174L757 1174L758 1174L759 1174L760 1174L761 1174L762 1174L763 1174L764 1174L765 1174L766 1174L767 1174L768 1174L769 1174L770 1174L771 1174L772 1174L773 1174L774 1174L775 1174L776 1174L777 1174L778 1174L779 1174L780 1174L781 1174L782 1174L783 1174L784 1174L785 1174L786 1174L787 1174L788 1174L789 1174L790 1174L791 1174L792 1174L793 1174L794 1174L795 1174L796 1174L797 1174L798 1174L799 1174L800 1174L801 1174L802 1174L803 1174L804 1174L805 1174L806 1174L807 1174L808 1174L809 1174L810 1174L811 1174L812 1174L813 1174L814 1174L815 1174L816 1174L817 1174L818 1174L819 1174L820 1174L821 1174L822 1174L823 1174L824 1174L825 1174L826 1174L827 1174L828 1174L829 1174L830 1174L831 1174L832 1174L833 1174L834 1174L835 1174L836 1174L837 1174L838 1174L839 1174L840 1174L841 1174L842 1174L843 1174L844 1174L845 1174L846 1174L847 1174L848 1174L849 1174L850 1174L851 1174L852 1174L853 1174L854 1174L855 1174L856 1174L857 1174L858 1174L859 1174L860 1174L861 1174L862 1174L863 1174L864 1174L865 1174L866 1174L867 1174L868 1174L869 1174L870 1174L871 1174L872 1174L873 1173.9L874 1173.9L875 1173.9L876 1173.9L877 1173.8L878 1173.8L879 1173.7L880 1173.7L881 1173.6L882 1173.5L883 1173.3L884 1173.1L885 1172.9L886 1172.7L887 1172.4L888 1172L889 1171.5L890 1171L891 1170.4L892 1169.6L893 1168.7L894 1167.7L895 1166.5L896 1165.1L897 1163.6L898 1161.7L899 1159.7L900 1157.3L901 1154.7L902 1151.8L903 1148.5L904 1144.9L905 1140.9L906 1136.5L907 1131.7L908 1126.6L909 1121L910 1115.1L911 1108.8L912 1102.2L913 1095.2L914 1088L915 1080.5L916 1072.9L917 1065.1L918 1057.2L919 1049.4L920 1041.6L921 1033.9L922 1026.5L923 1019.4L924 1012.7L925 1006.4L926 1000.7L927 995.6L928 991.2L929 987.5L930 984.6L931 982.6L932 981.4L933 981L934 981.5L935 982.6L936 984.6L937 987.2L938 990.5L939 994.4L940 998.9L941 1003.9L942 1009.3L943 1015.2L944 1021.4L945 1027.9L946 1034.6L947 1041.4L948 1048.4L949 1055.4L950 1062.4L951 1069.3L952 1076.1L953 1082.8L954 1089.4L955 1095.7L956 1101.7L957 1107.5L958 1113L959 1118.3L960 1123.2L961 1127.8L962 1132.2L963 1136.2L964 1139.9L965 1143.3L966 1146.5L967 1149.4L968 1152L969 1154.3L970 1156.5L971 1158.4L972 1160.1L973 1161.7L974 1163L975 1164.2L976 1165.3L977 1166.2L978 1167.1L979 1167.8L980 1168.4L981 1169L982 1169.5L983 1169.9L984 1170.2L985 1170.6L986 1170.8L987 1171.1L988 1171.3L989 1171.5L990 1171.6L991 1171.8L992 1171.9L993 1172L994 1172.1L995 1172.2L996 1172.2L997 1172.3L998 1172.4L999 1172.4L1000 1172.5L1001 1172.5L1002 1172.6L1003 1172.6L1004 1172.7L1005 1172.7L1006 1172.7L1007 1172.8L1008 1172.8L1009 1172.8L1010 1172.9L1011 1172.9L1012 1172.9L1013 1172.9L1014 1173L1015 1173L1016 1173L1017 1173L1018 1173.1L1019 1173.1L1020 1173.1L1021 1173.1L1022 1173.1L1023 1173.2L1024 1173.2L1025 1173.2L1026 1173.2L1027 1173.2L1028 1173.2L1029 1173.3L1030 1173.3L1031 1173.3L1032 1173.3L1033 1173.3L1034 1173.3L1035 1173.3L1036 1173.3L1037 1173.4L1038 1173.4L1039 1173.4L1040 1173.4L1041 1173.4L1042 1173.4L1043 1173.4L1044 1173.4L1045 1173.4L1046 1173.5L1047 1173.5L1048 1173.5L1049 1173.5L1050 1173.5L1051 1173.5L1052 1173.5L1053 1173.5L1054 1173.5L1055 1173.5L1056 1173.5L1057 1173.5L1058 1173.6L1059 1173.6L1060 1173.6L1061 1173.6L1062 1173.6L1063 1173.6L1064 1173.6L1065 1173.6L1066 1173.6L1067 1173.6L1068 1173.6L1069 1173.6L1070 1173.6L1071 1173.6L1072 1173.6L1073 1173.6L1074 1173.6L1075 1173.7L1076 1173.7L1077 1173.7L1078 1173.7L1079 1173.7L1080 1173.7L1081 1173.7L1082 1173.7L1083 1173.7L1084 1173.7L1085 1173.7L1086 1173.7L1087 1173.7L1088 1173.7L1089 1173.7L1090 1173.7L1091 1173.7L1092 1173.7L1093 1173.7L1094 1173.7L1095 1173.7L1096 1173.7L1097 1173.7L1098 1173.7L1099 1173.7L1100 1173.7L1101 1173.7L1102 1173.8L1103 1173.8L1104 1173.8L1105 1173.8L1106 1173.8L1107 1173.8L1108 1173.8L1109 1173.8L1110 1173.8L1111 1173.8L1112 1173.8L1113 1173.8L1114 1173.8L1115 1173.8L1116 1173.8L1117 1173.8L1118 1173.8L1119 1173.8L1120 1173.8L1121 1173.8L1122 1173.8L1123 1173.8L1124 1173.8L1125 1173.8L1126 1173.8L1127 1173.8L1128 1173.8L1129 1173.8L1130 1173.8L1131 1173.8L1132 1173.8L1133 1173.8L1134 1173.8L1135 1173.8L1136 1173.8L1137 1173.8L1138 1173.8L1139 1173.8L1140 1173.8L1141 1173.8L1142 1173.8L1143 1173.8L1144 1173.8L1145 1173.8L1146 1173.8L1147 1173.8L1148 1173.8L1149 1173.8L1150 1173.8L1151 1173.9L1152 1173.9L1153 1173.9L1154 1173.9L1155 1173.9L1156 1173.9L1157 1173.9L1158 1173.9L1159 1173.9L1160 1173.9L1161 1173.9L1162 1173.9L1163 1173.9L1164 1173.9L1165 1173.9L1166 1173.9L1167 1173.9L1168 1173.9L1169 1173.9L1170 1173.9L1171 1173.9L1172 1173.9L1173 1173.9L1174 1173.9L1175 1173.9L1176 1173.9L1177 1173.9L1178 1173.9L1179 1173.9L1180 1173.9L1181 1173.9L1182 1173.9L1183 1173.9L1184 1173.9L1185 1173.9L1185 1176L626 1176Z" fill="#e6302a"/>
<path d="M626 1174L627 1174L628 1174L629 1174L630 1174L631 1174L632 1174L633 1174L634 1174L635 1174L636 1174L637 1174L638 1174L639 1174L640 1174L641 1174L642 1174L643 1174L644 1174L645 1174L646 1174L647 1174L648 1174L649 1174L650 1174L651 1174L652 1174L653 1174L654 1174L655 1174L656 1174L657 1174L658 1174L659 1174L660 1174L661 1174L662 1174L663 1174L664 1174L665 1174L666 1174L667 1174L668 1174L669 1174L670 1174L671 1174L672 1174L673 1174L674 1174L675 1174L676 1174L677 1174L678 1174L679 1174L680 1174L681 1174L682 1174L683 1174L684 1174L685 1174L686 1174L687 1174L688 1174L689 1174L690 1174L691 1174L692 1174L693 1174L694 1174L695 1174L696 1174L697 1174L698 1174L699 1174L700 1174L701 1174L702 1174L703 1174L704 1174L705 1174L706 1174L707 1174L708 1174L709 1174L710 1174L711 1174L712 1174L713 1174L714 1174L715 1174L716 1174L717 1174L718 1174L719 1174L720 1174L721 1174L722 1174L723 1174L724 1174L725 1174L726 1174L727 1174L728 1174L729 1174L730 1174L731 1174L732 1174L733 1174L734 1174L735 1174L736 1174L737 1174L738 1174L739 1174L740 1174L741 1174L742 1174L743 1174L744 1174L745 1174L746 1174L747 1174L748 1174L749 1174L750 1174L751 1174L752 1174L753 1174L754 1174L755 1174L756 1174L757 1174L758 1174L759 1174L760 1174L761 1174L762 1174L763 1174L764 1174L765 1174L766 1174L767 1174L768 1174L769 1174L770 1174L771 1174L772 1174L773 1174L774 1174L775 1174L776 1174L777 1174L778 1174L779 1174L780 1173.9L781 1173.9L782 1173.9L783 1173.8L784 1173.8L785 1173.7L786 1173.7L787 1173.6L788 1173.4L789 1173.3L790 1173.1L791 1172.9L792 1172.6L793 1172.3L794 1171.9L795 1171.4L796 1170.8L797 1170.2L798 1169.5L799 1168.6L800 1167.7L801 1166.6L802 1165.5L803 1164.2L804 1162.8L805 1161.3L806 1159.7L807 1158.1L808 1156.3L809 1154.5L810 1152.7L811 1150.9L812 1149.1L813 1147.4L814 1145.8L815 1144.3L816 1142.9L817 1141.7L818 1140.7L819 1139.9L820 1139.4L821 1139.1L822 1139L823 1139.2L824 1139.7L825 1140.4L826 1141.3L827 1142.4L828 1143.7L829 1145.2L830 1146.8L831 1148.5L832 1150.2L833 1152L834 1153.8L835 1155.6L836 1157.4L837 1159.1L838 1160.7L839 1162.2L840 1163.7L841 1165L842 1166.2L843 1167.3L844 1168.3L845 1169.1L846 1169.9L847 1170.6L848 1171.2L849 1171.7L850 1172.1L851 1172.5L852 1172.8L853 1173L854 1173.2L855 1173.4L856 1173.5L857 1173.6L858 1173.7L859 1173.8L860 1173.8L861 1173.9L862 1173.9L863 1173.9L864 1173.9L865 1174L866 1174L867 1174L868 1174L869 1174L870 1174L871 1174L872 1174L873 1174L874 1174L875 1174L876 1174L877 1174L878 1174L879 1174L880 1174L881 1174L882 1174L883 1174L884 1174L885 1174L886 1174L887 1174L888 1174L889 1174L890 1174L891 1174L892 1174L893 1174L894 1174L895 1174L896 1174L897 1174L898 1174L899 1174L900 1174L901 1174L902 1174L903 1174L904 1174L905 1174L906 1174L907 1174L908 1174L909 1174L910 1174L911 1174L912 1174L913 1174L914 1174L915 1174L916 1174L917 1174L918 1174L919 1174L920 1174L921 1174L922 1174L923 1174L924 1174L925 1174L926 1174L927 1174L928 1174L929 1174L930 1174L931 1174L932 1174L933 1174L934 1174L935 1174L936 1174L937 1174L938 1174L939 1174L940 1174L941 1174L942 1174L943 1174L944 1174L945 1174L946 1174L947 1174L948 1174L949 1174L950 1174L951 1174L952 1174L953 1174L954 1174L955 1174L956 1174L957 1174L958 1174L959 1174L960 1174L961 1174L962 1174L963 1174L964 1174L965 1174L966 1174L967 1174L968 1174L969 1174L970 1174L971 1174L972 1174L973 1174L974 1174L975 1174L976 1174L977 1174L978 1174L979 1174L980 1174L981 1174L982 1174L983 1174L984 1174L985 1174L986 1174L987 1174L988 1174L989 1174L990 1174L991 1174L992 1174L993 1174L994 1174L995 1174L996 1174L997 1174L998 1174L999 1174L1000 1174L1001 1174L1002 1174L1003 1174L1004 1174L1005 1174L1006 1174L1007 1174L1008 1174L1009 1174L1010 1174L1011 1174L1012 1174L1013 1174L1014 1174L1015 1174L1016 1174L1017 1174L1018 1174L1019 1174L1020 1174L1021 1174L1022 1174L1023 1174L1024 1174L1025 1174L1026 1174L1027 1174L1028 1174L1029 1174L1030 1174L1031 1174L1032 1174L1033 1174L1034 1174L1035 1174L1036 1174L1037 1174L1038 1174L1039 1174L1040 1174L1041 1174L1042 1174L1043 1174L1044 1174L1045 1174L1046 1174L1047 1174L1048 1174L1049 1174L1050 1174L1051 1174L1052 1174L1053 1174L1054 1174L1055 1174L1056 1174L1057 1174L1058 1174L1059 1174L1060 1174L1061 1174L1062 1174L1063 1174L1064 1174L1065 1174L1066 1174L1067 1174L1068 1174L1069 1174L1070 1174L1071 1174L1072 1174L1073 1174L1074 1174L1075 1174L1076 1174L1077 1174L1078 1174L1079 1174L1080 1174L1081 1174L1082 1174L1083 1174L1084 1174L1085 1174L1086 1174L1087 1174L1088 1174L1089 1174L1090 1174L1091 1174L1092 1174L1093 1174L1094 1174L1095 1174L1096 1174L1097 1174L1098 1174L1099 1174L1100 1174L1101 1174L1102 1174L1103 1174L1104 1174L1105 1174L1106 1174L1107 1174L1108 1174L1109 1174L1110 1174L1111 1174L1112 1174L1113 1174L1114 1174L1115 1174L1116 1174L1117 1174L1118 1174L1119 1174L1120 1174L1121 1174L1122 1174L1123 1174L1124 1174L1125 1174L1126 1174L1127 1174L1128 1174L1129 1174L1130 1174L1131 1174L1132 1174L1133 1174L1134 1174L1135 1174L1136 1174L1137 1174L1138 1174L1139 1174L1140 1174L1141 1174L1142 1174L1143 1174L1144 1174L1145 1174L1146 1174L1147 1174L1148 1174L1149 1174L1150 1174L1151 1174L1152 1174L1153 1174L1154 1174L1155 1174L1156 1174L1157 1174L1158 1174L1159 1174L1160 1174L1161 1174L1162 1174L1163 1174L1164 1174L1165 1174L1166 1174L1167 1174L1168 1174L1169 1174L1170 1174L1171 1174L1172 1174L1173 1174L1174 1174L1175 1174L1176 1174L1177 1174L1178 1174L1179 1174L1180 1174L1181 1174L1182 1174L1183 1174L1184 1174L1185 1174L1185 1176L626 1176Z" fill="#8a4a97"/>
<path d="M626 1174L627 1174L628 1174L629 1174L630 1174L631 1174L632 1174L633 1174L634 1174L635 1174L636 1174L637 1174L638 1174L639 1174L640 1174L641 1174L642 1174L643 1174L644 1174L645 1174L646 1174L647 1174L648 1174L649 1174L650 1174L651 1174L652 1174L653 1174L654 1174L655 1174L656 1174L657 1174L658 1174L659 1174L660 1174L661 1174L662 1174L663 1174L664 1174L665 1174L666 1174L667 1174L668 1174L669 1174L670 1174L671 1174L672 1174L673 1174L674 1174L675 1174L676 1174L677 1174L678 1174L679 1174L680 1174L681 1174L682 1174L683 1174L684 1174L685 1174L686 1174L687 1174L688 1174L689 1174L690 1174L691 1174L692 1174L693 1174L694 1174L695 1174L696 1174L697 1174L698 1174L699 1174L700 1174L701 1174L702 1174L703 1174L704 1174L705 1174L706 1174L707 1174L708 1174L709 1174L710 1174L711 1174L712 1174L713 1174L714 1174L715 1174L716 1174L717 1174L718 1174L719 1174L720 1174L721 1174L722 1174L723 1174L724 1174L725 1174L726 1174L727 1174L728 1174L729 1174L730 1174L731 1174L732 1174L733 1174L734 1174L735 1174L736 1174L737 1174L738 1174L739 1174L740 1174L741 1174L742 1174L743 1174L744 1174L745 1174L746 1174L747 1174L748 1174L749 1174L750 1174L751 1174L752 1174L753 1174L754 1174L755 1174L756 1174L757 1174L758 1174L759 1174L760 1174L761 1174L762 1174L763 1174L764 1174L765 1174L766 1174L767 1174L768 1174L769 1174L770 1174L771 1174L772 1174L773 1174L774 1174L775 1174L776 1174L777 1174L778 1174L779 1174L780 1174L781 1174L782 1174L783 1174L784 1174L785 1174L786 1174L787 1174L788 1174L789 1174L790 1174L791 1174L792 1174L793 1174L794 1174L795 1174L796 1174L797 1174L798 1174L799 1174L800 1174L801 1174L802 1174L803 1174L804 1174L805 1174L806 1174L807 1174L808 1174L809 1174L810 1174L811 1174L812 1174L813 1174L814 1174L815 1174L816 1174L817 1174L818 1174L819 1174L820 1174L821 1174L822 1174L823 1174L824 1174L825 1174L826 1174L827 1174L828 1174L829 1174L830 1174L831 1174L832 1174L833 1174L834 1174L835 1174L836 1174L837 1174L838 1174L839 1174L840 1174L841 1174L842 1174L843 1174L844 1174L845 1174L846 1174L847 1174L848 1174L849 1174L850 1174L851 1174L852 1174L853 1174L854 1174L855 1174L856 1174L857 1174L858 1174L859 1174L860 1174L861 1174L862 1174L863 1174L864 1174L865 1173.9L866 1173.9L867 1173.9L868 1173.8L869 1173.8L870 1173.7L871 1173.6L872 1173.4L873 1173.2L874 1173L875 1172.6L876 1172.2L877 1171.7L878 1171.1L879 1170.3L880 1169.4L881 1168.3L882 1167L883 1165.4L884 1163.7L885 1161.7L886 1159.5L887 1157L888 1154.3L889 1151.4L890 1148.3L891 1145.1L892 1141.8L893 1138.4L894 1135.1L895 1131.8L896 1128.8L897 1125.9L898 1123.4L899 1121.3L900 1119.6L901 1118.4L902 1117.7L903 1117.5L904 1117.9L905 1118.8L906 1120.2L907 1122.1L908 1124.4L909 1127L910 1130L911 1133.1L912 1136.4L913 1139.8L914 1143.1L915 1146.4L916 1149.6L917 1152.6L918 1155.4L919 1158L920 1160.4L921 1162.5L922 1164.4L923 1166.1L924 1167.5L925 1168.7L926 1169.8L927 1170.6L928 1171.3L929 1171.9L930 1172.4L931 1172.8L932 1173.1L933 1173.3L934 1173.5L935 1173.6L936 1173.7L937 1173.8L938 1173.9L939 1173.9L940 1173.9L941 1173.9L942 1174L943 1174L944 1174L945 1174L946 1174L947 1174L948 1174L949 1174L950 1174L951 1174L952 1174L953 1174L954 1174L955 1174L956 1174L957 1174L958 1174L959 1174L960 1174L961 1174L962 1174L963 1174L964 1174L965 1174L966 1174L967 1174L968 1174L969 1174L970 1174L971 1174L972 1174L973 1174L974 1174L975 1174L976 1174L977 1174L978 1174L979 1174L980 1174L981 1174L982 1174L983 1174L984 1174L985 1174L986 1174L987 1174L988 1174L989 1174L990 1174L991 1174L992 1174L993 1174L994 1174L995 1174L996 1174L997 1174L998 1174L999 1174L1000 1174L1001 1174L1002 1174L1003 1174L1004 1174L1005 1174L1006 1174L1007 1174L1008 1174L1009 1174L1010 1174L1011 1174L1012 1174L1013 1174L1014 1174L1015 1174L1016 1174L1017 1174L1018 1174L1019 1174L1020 1174L1021 1174L1022 1174L1023 1174L1024 1174L1025 1174L1026 1174L1027 1174L1028 1174L1029 1174L1030 1174L1031 1174L1032 1174L1033 1174L1034 1174L1035 1174L1036 1174L1037 1174L1038 1174L1039 1174L1040 1174L1041 1174L1042 1174L1043 1174L1044 1174L1045 1174L1046 1174L1047 1174L1048 1174L1049 1174L1050 1174L1051 1174L1052 1174L1053 1174L1054 1174L1055 1174L1056 1174L1057 1174L1058 1174L1059 1174L1060 1174L1061 1174L1062 1174L1063 1174L1064 1174L1065 1174L1066 1174L1067 1174L1068 1174L1069 1174L1070 1174L1071 1174L1072 1174L1073 1174L1074 1174L1075 1174L1076 1174L1077 1174L1078 1174L1079 1174L1080 1174L1081 1174L1082 1174L1083 1174L1084 1174L1085 1174L1086 1174L1087 1174L1088 1174L1089 1174L1090 1174L1091 1174L1092 1174L1093 1174L1094 1174L1095 1174L1096 1174L1097 1174L1098 1174L1099 1174L1100 1174L1101 1174L1102 1174L1103 1174L1104 1174L1105 1174L1106 1174L1107 1174L1108 1174L1109 1174L1110 1174L1111 1174L1112 1174L1113 1174L1114 1174L1115 1174L1116 1174L1117 1174L1118 1174L1119 1174L1120 1174L1121 1174L1122 1174L1123 1174L1124 1174L1125 1174L1126 1174L1127 1174L1128 1174L1129 1174L1130 1174L1131 1174L1132 1174L1133 1174L1134 1174L1135 1174L1136 1174L1137 1174L1138 1174L1139 1174L1140 1174L1141 1174L1142 1174L1143 1174L1144 1174L1145 1174L1146 1174L1147 1174L1148 1174L1149 1174L1150 1174L1151 1174L1152 1174L1153 1174L1154 1174L1155 1174L1156 1174L1157 1174L1158 1174L1159 1174L1160 1174L1161 1174L1162 1174L1163 1174L1164 1174L1165 1174L1166 1174L1167 1174L1168 1174L1169 1174L1170 1174L1171 1174L1172 1174L1173 1174L1174 1174L1175 1174L1176 1174L1177 1174L1178 1174L1179 1174L1180 1174L1181 1174L1182 1174L1183 1174L1184 1174L1185 1174L1185 1176L626 1176Z" fill="#3b2484"/>
<line x1="627" y1="1175" x2="1183" y2="1175" stroke="#6f6a82" stroke-width="7" stroke-linecap="round" />
<line x1="627" y1="1177.3" x2="1183" y2="1177.3" stroke="#3aa08c" stroke-width="1.6" stroke-linecap="butt" />
<line x1="627" y1="1174.8" x2="1183" y2="1174.8" stroke="#8c4a88" stroke-width="3.8" stroke-linecap="round" />
<path d="M626.2 1098.1C627.5 1098 630.9 1098 634 1097.8C637.1 1097.6 641.2 1097.5 645 1097C648.8 1096.5 653 1094.5 657 1094.8C661 1095.1 665.7 1098.8 669.2 1098.9C672.7 1099 674.6 1095.2 678 1095.3C681.4 1095.4 685.6 1099.5 689.4 1099.4C693.2 1099.3 697.3 1095 700.8 1094.8C704.3 1094.6 707.3 1098.2 710.5 1098.1C713.7 1098 716.8 1094 720.2 1094C723.6 1094 727.1 1098.1 730.7 1098.1C734.4 1098 738.7 1094 742.1 1093.7C745.5 1093.4 747.8 1096.6 751 1096.5C754.2 1096.4 758.2 1093.2 761.5 1092.9C764.8 1092.6 767.9 1094.8 770.5 1094.4C773.1 1094 775.1 1091.5 777 1090.5C778.9 1089.5 780.2 1088.9 781.8 1088.4C783.4 1087.9 785.4 1088.3 786.7 1087.6C788.1 1086.9 788.9 1085.9 789.9 1084.3C790.9 1082.7 791.7 1080.4 792.5 1078C793.3 1075.6 793.9 1073.4 794.8 1069.7C795.7 1066 796.8 1062.1 798 1056C799.2 1049.9 800.8 1038.1 802 1033C803.2 1027.9 804 1027.2 805 1025.5C806 1023.8 806.7 1023 807.7 1023C808.7 1023 809.8 1024.1 811 1025.5C812.2 1026.9 813.5 1029.4 815 1031.5C816.5 1033.6 817.9 1035.6 819.7 1038C821.5 1040.4 824.1 1043.7 826 1046C827.9 1048.3 829.6 1050.7 831 1052C832.4 1053.3 833.2 1054.2 834.5 1054C835.8 1053.8 837.2 1052.8 838.5 1051C839.8 1049.2 840.8 1046.8 842 1043C843.2 1039.2 844.3 1034.3 845.5 1028C846.7 1021.7 847.6 1015.3 849 1005C850.4 994.7 852.4 982.7 854 966C855.6 949.3 857 925 858.5 905C860 885 861.5 863.5 862.7 846C864 828.5 864.9 811.2 866 800C867.1 788.8 868.3 779 869.5 779C870.7 779 871.9 788.8 873 800C874.1 811.2 875.1 829.8 876.4 846C877.7 862.2 879.2 878.2 880.6 897.5C882 916.8 883.7 946.9 885 962C886.3 977.1 887.3 982.1 888.5 988C889.7 993.9 890.8 995.8 892 997.5C893.2 999.2 894.2 999.1 895.5 998.5C896.8 997.9 897.9 996.2 900 994C902.1 991.8 905.7 988 908 985C910.3 982 912.3 979.2 914 976C915.7 972.8 917.1 971.2 918.4 966C919.7 960.8 920.9 952.4 922 945C923.1 937.6 924.2 928.3 925.3 921.6C926.4 914.9 927.4 908.8 928.5 905C929.6 901.2 930.8 899 932 899C933.2 899 934.2 901 935.5 905C936.8 909 938.1 914.7 939.5 923C940.9 931.3 942.5 942.5 944 955C945.5 967.5 947 983.3 948.5 998C950 1012.7 951.6 1031 953 1043C954.4 1055 955.7 1063.6 957 1070C958.3 1076.4 959.7 1079.1 961 1081.5C962.3 1083.9 963.7 1083.8 965 1084.5C966.3 1085.2 967.7 1084.8 969 1085.5C970.3 1086.2 971.5 1087.8 973 1089C974.5 1090.2 976.2 1091.8 978 1092.5C979.8 1093.2 981.9 1093.1 984 1093C986.1 1092.9 988.4 1091.5 990.6 1091.7C992.8 1092 994.7 1093.9 997 1094.5C999.3 1095.1 1001.7 1095.8 1004.4 1095.5C1007.1 1095.2 1010.4 1092.8 1013 1092.8C1015.6 1092.8 1017.7 1094.7 1020 1095.5C1022.3 1096.3 1024.5 1097.5 1027 1097.5C1029.5 1097.5 1032.8 1095.3 1035.3 1095.2C1037.8 1095.1 1039 1096.7 1042 1097C1045 1097.3 1049.5 1096.3 1053 1096.9C1056.5 1097.5 1059.5 1100.7 1062.7 1100.8C1065.9 1100.9 1068.9 1097.2 1072.4 1097.5C1075.9 1097.8 1079.7 1102.7 1083.5 1102.7C1087.3 1102.7 1091.1 1097.4 1095.1 1097.5C1099.1 1097.6 1102.8 1102.5 1107.4 1103.3C1112.1 1104 1118.2 1102.7 1123 1102C1127.8 1101.3 1132.1 1099.4 1136 1099.2C1139.9 1099 1143.2 1100.8 1146.4 1100.8C1149.6 1100.8 1152 1099.2 1155.4 1099.5C1158.9 1099.8 1163.7 1102.1 1167.1 1102.7C1170.5 1103.3 1173.3 1102.8 1176 1103C1178.7 1103.2 1182.2 1103.5 1183.5 1103.6" fill="none" stroke="#0c0c0c" stroke-width="5.6" stroke-linejoin="round" stroke-linecap="round"/>
<line x1="628.2" y1="1185.8" x2="1183.2" y2="1185.8" stroke="#0c0c0c" stroke-width="6.8" stroke-linecap="round" />
<line x1="655.2" y1="1186" x2="655.2" y2="1190.5" stroke="#0c0c0c" stroke-width="7" stroke-linecap="round" />
<line x1="683" y1="1186" x2="683" y2="1190.5" stroke="#0c0c0c" stroke-width="7" stroke-linecap="round" />
<line x1="710.7" y1="1186" x2="710.7" y2="1190.5" stroke="#0c0c0c" stroke-width="7" stroke-linecap="round" />
<line x1="738.5" y1="1186" x2="738.5" y2="1193.9" stroke="#0c0c0c" stroke-width="7" stroke-linecap="round" />
<line x1="766.2" y1="1186" x2="766.2" y2="1190.5" stroke="#0c0c0c" stroke-width="7" stroke-linecap="round" />
<line x1="794" y1="1186" x2="794" y2="1190.5" stroke="#0c0c0c" stroke-width="7" stroke-linecap="round" />
<line x1="821.8" y1="1186" x2="821.8" y2="1190.5" stroke="#0c0c0c" stroke-width="7" stroke-linecap="round" />
<line x1="849.5" y1="1186" x2="849.5" y2="1193.9" stroke="#0c0c0c" stroke-width="7" stroke-linecap="round" />
<line x1="877.3" y1="1186" x2="877.3" y2="1190.5" stroke="#0c0c0c" stroke-width="7" stroke-linecap="round" />
<line x1="905.1" y1="1186" x2="905.1" y2="1190.5" stroke="#0c0c0c" stroke-width="7" stroke-linecap="round" />
<line x1="932.8" y1="1186" x2="932.8" y2="1190.5" stroke="#0c0c0c" stroke-width="7" stroke-linecap="round" />
<line x1="960.6" y1="1186" x2="960.6" y2="1193.9" stroke="#0c0c0c" stroke-width="7" stroke-linecap="round" />
<line x1="988.4" y1="1186" x2="988.4" y2="1190.5" stroke="#0c0c0c" stroke-width="7" stroke-linecap="round" />
<line x1="1016.1" y1="1186" x2="1016.1" y2="1190.5" stroke="#0c0c0c" stroke-width="7" stroke-linecap="round" />
<line x1="1043.9" y1="1186" x2="1043.9" y2="1190.5" stroke="#0c0c0c" stroke-width="7" stroke-linecap="round" />
<line x1="1071.7" y1="1186" x2="1071.7" y2="1193.9" stroke="#0c0c0c" stroke-width="7" stroke-linecap="round" />
<line x1="1099.4" y1="1186" x2="1099.4" y2="1190.5" stroke="#0c0c0c" stroke-width="7" stroke-linecap="round" />
<line x1="1127.2" y1="1186" x2="1127.2" y2="1190.5" stroke="#0c0c0c" stroke-width="7" stroke-linecap="round" />
<line x1="1155" y1="1186" x2="1155" y2="1190.5" stroke="#0c0c0c" stroke-width="7" stroke-linecap="round" />
<text x="737.5" y="1238" font-family='"Liberation Serif","Noto Serif CJK SC",serif' font-size="49" font-weight="bold" font-style="normal" fill="#111" text-anchor="middle" textLength="71" lengthAdjust="spacingAndGlyphs" >100</text>
<text x="851" y="1238" font-family='"Liberation Serif","Noto Serif CJK SC",serif' font-size="49" font-weight="bold" font-style="normal" fill="#111" text-anchor="middle" textLength="47" lengthAdjust="spacingAndGlyphs" >80</text>
<text x="962.1" y="1238" font-family='"Liberation Serif","Noto Serif CJK SC",serif' font-size="49" font-weight="bold" font-style="normal" fill="#111" text-anchor="middle" textLength="47" lengthAdjust="spacingAndGlyphs" >60</text>
<text x="1073.2" y="1238" font-family='"Liberation Serif","Noto Serif CJK SC",serif' font-size="49" font-weight="bold" font-style="normal" fill="#111" text-anchor="middle" textLength="47" lengthAdjust="spacingAndGlyphs" >40</text>
<text x="1127.3" y="1230.3" font-family='"Liberation Serif","Noto Serif CJK SC",serif' font-size="44" font-weight="bold" font-style="normal" fill="#111" text-anchor="start" >/</text>
<text x="1141.9" y="1229.8" font-family='"Liberation Serif","Noto Serif CJK SC",serif' font-size="46" font-weight="bold" font-style="normal" fill="#111" text-anchor="start" textLength="91.6" lengthAdjust="spacingAndGlyphs" >ppm</text>
</svg>
</body></html>
